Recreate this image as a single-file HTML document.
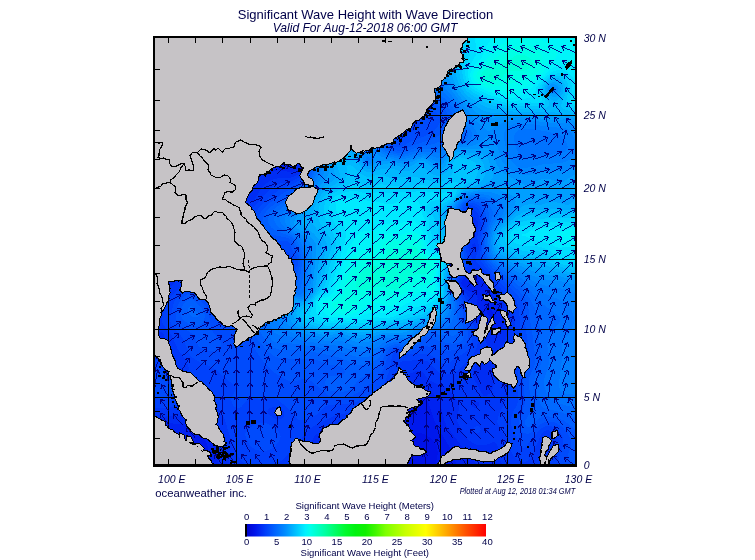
<!DOCTYPE html>
<html><head><meta charset="utf-8"><title>Significant Wave Height with Wave Direction</title>
<style>
html,body{margin:0;padding:0;background:#fff}
body{width:755px;height:560px;overflow:hidden}
svg{display:block}
text{font-family:"Liberation Sans",Arial,sans-serif;fill:#000048}
.it{font-style:italic}
</style></head><body>
<svg width="755" height="560" viewBox="0 0 755 560">
<defs><clipPath id="mc"><rect x="154" y="37" width="422.5" height="429"/></clipPath>
<linearGradient id="cb" x1="0" x2="1" y1="0" y2="0">
<stop offset="0.0000" stop-color="#0000c8"/>
<stop offset="0.0417" stop-color="#0014eb"/>
<stop offset="0.0833" stop-color="#003cfa"/>
<stop offset="0.1250" stop-color="#0064ff"/>
<stop offset="0.1667" stop-color="#008cff"/>
<stop offset="0.2083" stop-color="#00beff"/>
<stop offset="0.2500" stop-color="#00f0ff"/>
<stop offset="0.2708" stop-color="#00ffeb"/>
<stop offset="0.2917" stop-color="#00ffd2"/>
<stop offset="0.3333" stop-color="#00ffa0"/>
<stop offset="0.4167" stop-color="#00fa2d"/>
<stop offset="0.4583" stop-color="#00f20f"/>
<stop offset="0.5000" stop-color="#0ff000"/>
<stop offset="0.5417" stop-color="#41f600"/>
<stop offset="0.5833" stop-color="#7dff00"/>
<stop offset="0.6667" stop-color="#c8ff00"/>
<stop offset="0.7500" stop-color="#ffff00"/>
<stop offset="0.8333" stop-color="#ffaa00"/>
<stop offset="0.9167" stop-color="#ff5000"/>
<stop offset="1.0000" stop-color="#ff0000"/>
</linearGradient></defs>
<rect width="755" height="560" fill="#fff"/>
<g clip-path="url(#mc)">
<rect x="150" y="33" width="430" height="437" fill="#0012e8"/>
<g shape-rendering="crispEdges">
<path d="M154.0,34.0 577.0,34.0 577.0,469.0 434.8,469.0 437.6,454.0 437.4,448.0 436.6,445.0 433.0,440.1 427.0,435.6 421.0,432.9 418.0,432.9 415.0,434.0 412.0,436.4 409.0,439.8 405.5,445.0 400.1,457.0 397.0,469.0 158.8,469.0 157.0,467.1 153.7,469.0 151.0,469.0 151.0,34.0Z" fill="#0019ed" fill-rule="evenodd"/>
<path d="M154.0,34.0 577.0,34.0 577.0,469.0 457.4,469.0 455.8,463.0 451.4,451.0 446.7,442.0 437.1,427.0 434.4,421.0 428.4,403.0 426.7,400.0 424.0,397.4 421.0,396.1 418.0,396.2 415.9,397.0 412.1,400.0 402.0,415.0 394.0,425.7 382.0,439.6 363.2,460.0 358.3,466.0 356.7,469.0 205.8,469.0 208.0,452.6 207.4,445.0 205.0,440.4 202.0,437.6 199.0,436.1 193.0,435.1 182.1,436.0 175.0,437.4 163.0,440.9 151.0,442.9 151.0,34.0ZM472.6,280.0 467.4,283.0 472.0,285.2 475.0,285.8 478.0,285.4 479.8,283.0 478.0,280.3 475.0,279.8ZM486.1,310.0 487.0,313.2 493.0,320.3 494.9,319.0 493.0,312.6 490.0,307.9 487.0,307.0Z" fill="#0023f1" fill-rule="evenodd"/>
<path d="M154.0,34.0 577.0,34.0 577.0,469.0 479.2,469.0 475.7,463.0 466.0,451.7 447.1,427.0 444.4,421.0 439.9,403.0 436.6,397.0 433.0,393.3 427.0,389.3 421.0,386.8 418.0,386.3 415.0,386.5 412.0,387.5 407.1,391.0 388.0,413.7 382.0,419.7 373.0,427.2 361.0,435.3 343.7,445.0 334.6,451.0 331.0,454.6 328.0,458.6 323.6,466.0 322.4,469.0 219.4,469.0 216.8,451.0 214.5,442.0 211.4,436.0 209.2,433.0 205.0,429.1 202.0,427.3 199.0,426.0 193.0,424.6 169.0,423.3 151.0,427.8 151.0,34.0ZM262.3,160.0 257.9,163.0 255.2,166.0 253.9,169.0 254.4,172.0 256.0,172.9 259.0,173.4 265.0,173.4 271.0,172.4 277.0,170.5 280.0,170.4 289.0,171.9 292.0,171.9 295.0,170.9 297.3,169.0 296.4,166.0 293.1,163.0 289.0,160.6 283.0,158.5 274.0,157.2 268.0,158.0ZM471.3,274.0 466.0,276.8 462.5,280.0 461.3,283.0 462.2,286.0 466.0,289.5 476.4,295.0 477.6,298.0 476.0,310.0 476.4,313.0 478.0,316.1 487.0,328.4 490.0,331.2 493.0,332.8 496.0,333.1 499.0,331.9 502.3,328.0 504.1,322.0 503.8,316.0 500.8,307.0 499.0,303.8 490.4,292.0 486.8,283.0 484.0,278.3 481.0,275.5 478.0,274.0 475.0,273.3Z" fill="#002df4" fill-rule="evenodd"/>
<path d="M154.0,34.0 577.0,34.0 577.0,469.0 503.6,469.0 499.1,457.0 497.3,445.0 496.0,442.8 493.0,442.2 487.0,444.6 481.0,445.5 475.0,444.3 469.0,440.5 462.9,433.0 456.8,421.0 456.6,418.0 459.0,409.0 459.1,406.0 458.1,403.0 454.7,397.0 449.9,391.0 445.8,388.0 430.0,380.7 427.8,379.0 424.0,373.7 421.0,371.2 418.0,370.9 415.0,371.4 409.0,374.1 406.0,376.9 394.0,393.5 388.0,400.4 379.0,408.7 367.0,417.1 361.0,420.2 352.0,423.8 331.0,430.5 319.0,433.3 316.0,434.6 314.5,436.0 312.8,439.0 309.8,448.0 307.0,454.4 298.2,469.0 231.5,469.0 222.9,442.0 217.7,430.0 214.0,424.2 211.2,421.0 205.0,416.3 199.0,414.1 193.0,413.5 175.0,416.2 151.0,417.0 151.0,345.1 157.0,345.5 160.0,345.1 163.0,343.3 164.6,340.0 164.7,337.0 163.0,333.4 151.0,325.1 151.0,303.1 157.2,295.0 160.3,292.0 166.0,288.3 172.0,285.8 174.5,283.0 174.7,280.0 172.0,274.3 169.0,271.0 160.0,264.1 151.0,258.6 151.0,34.0ZM263.2,142.0 256.0,143.1 248.3,145.0 241.0,147.5 235.0,150.4 229.4,154.0 226.0,157.0 223.0,160.5 219.9,166.0 218.9,169.0 218.3,175.0 219.3,181.0 221.9,187.0 226.2,193.0 229.1,196.0 232.8,199.0 238.0,201.7 244.0,203.2 250.0,202.8 253.0,201.2 255.0,199.0 260.3,190.0 262.6,187.0 265.7,184.0 269.9,181.0 274.0,179.1 277.0,178.4 286.0,178.3 292.0,177.4 298.0,174.6 301.0,171.7 301.9,169.0 301.7,166.0 300.5,163.0 295.0,155.2 289.0,149.7 283.0,145.8 277.0,143.3 271.0,142.1ZM471.3,220.0 470.7,223.0 470.8,226.0 471.6,229.0 472.0,229.8 475.0,230.7 478.0,226.5 478.0,222.3 475.0,217.3 472.0,218.3ZM472.0,244.0 472.0,247.9 475.0,249.3 475.9,247.0 475.0,243.2ZM468.4,271.0 463.0,275.9 460.0,279.7 459.1,283.0 460.0,286.7 469.5,298.0 470.7,301.0 471.1,310.0 472.0,314.7 482.8,334.0 487.6,346.0 488.3,349.0 488.2,352.0 486.8,355.0 478.0,363.2 475.0,366.8 473.4,370.0 472.8,373.0 472.9,376.0 473.8,379.0 479.3,388.0 481.0,392.7 484.0,396.3 487.0,395.5 490.0,393.4 492.9,388.0 495.9,373.0 496.6,358.0 497.2,355.0 505.0,341.2 508.0,333.5 509.6,325.0 509.5,316.0 508.4,310.0 506.1,304.0 487.0,276.7 481.0,271.1 478.0,269.2 475.0,268.2 472.0,268.6ZM473.2,403.0 471.2,406.0 472.0,406.8 475.0,407.8 478.4,406.0 479.1,403.0 478.0,401.7 475.0,402.1Z" fill="#0037f8" fill-rule="evenodd"/>
<path d="M154.0,34.0 577.0,34.0 577.0,469.0 546.8,469.0 551.2,457.0 556.9,445.0 557.6,442.0 557.4,439.0 556.3,436.0 553.8,433.0 550.0,430.8 547.0,430.2 544.0,431.3 541.0,434.7 532.0,456.2 529.0,460.0 526.0,461.7 523.0,461.9 520.0,461.2 517.0,459.4 514.0,456.5 512.3,454.0 506.5,439.0 497.7,424.0 497.3,421.0 498.7,415.0 506.0,400.0 507.7,394.0 508.6,376.0 512.7,355.0 514.0,344.0 515.0,328.0 514.3,313.0 512.2,304.0 508.6,298.0 491.1,277.0 476.7,262.0 475.4,259.0 475.9,256.0 478.5,250.0 478.6,244.0 477.3,238.0 477.6,235.0 480.6,226.0 480.7,223.0 478.0,213.3 475.0,210.3 472.0,209.3 468.9,211.0 467.6,217.0 467.2,223.0 468.7,235.0 468.3,247.0 469.0,250.9 471.3,256.0 471.8,259.0 471.0,262.0 460.0,276.6 458.3,280.0 457.7,283.0 458.1,286.0 459.4,289.0 465.2,298.0 466.4,301.0 469.0,315.8 473.5,325.0 476.8,334.0 477.8,343.0 476.3,349.0 472.6,355.0 460.0,368.5 457.0,371.0 451.0,373.6 445.0,374.2 442.0,373.7 439.0,372.4 436.1,370.0 431.0,364.0 427.0,361.0 421.0,360.0 403.0,361.0 400.0,362.6 394.0,379.0 389.0,388.0 385.0,392.5 376.0,400.1 367.0,406.0 361.0,409.1 352.0,412.1 334.0,415.9 313.0,426.4 308.5,430.0 291.6,451.0 283.0,459.7 274.0,465.1 268.0,467.5 262.0,468.7 256.0,468.3 253.0,467.6 244.0,463.6 241.0,461.0 238.7,457.0 229.0,434.1 226.0,423.1 224.0,418.0 214.0,400.8 211.0,397.1 208.0,394.6 205.0,393.1 202.0,392.5 199.0,392.8 193.0,395.5 182.0,403.0 176.0,406.0 172.0,407.3 163.0,408.3 151.0,407.2 151.0,358.7 157.0,358.8 163.0,360.2 166.0,361.8 175.0,370.3 181.0,373.5 184.0,373.8 186.5,373.0 188.5,370.0 188.6,367.0 186.4,361.0 177.7,349.0 170.9,334.0 163.4,325.0 162.2,322.0 162.1,319.0 162.6,316.0 167.9,301.0 172.2,295.0 178.8,289.0 183.6,283.0 186.9,277.0 188.4,271.0 188.3,268.0 186.2,262.0 171.2,241.0 167.8,235.0 164.1,226.0 161.9,217.0 160.6,205.0 161.0,199.0 163.0,194.2 166.0,190.8 169.0,189.2 172.0,188.6 178.0,189.1 184.0,190.9 193.0,194.5 205.0,200.6 220.0,209.4 226.0,212.1 232.0,213.5 235.0,213.6 241.0,212.8 250.0,209.3 256.0,205.1 268.0,191.0 274.0,185.4 277.0,184.0 289.0,182.2 292.0,181.3 298.0,178.1 301.0,175.7 303.6,172.0 304.5,169.0 304.6,166.0 303.0,160.0 298.0,149.9 295.0,145.5 289.0,138.7 283.0,134.0 277.0,130.9 271.0,129.1 262.0,128.1 250.0,129.4 235.0,130.2 220.0,133.5 205.9,139.0 194.2,145.0 166.0,163.7 160.0,165.6 151.0,165.1 151.0,34.0ZM268.3,409.0 267.3,412.0 269.5,415.0 273.7,418.0 277.0,419.3 280.0,419.5 283.0,418.0 284.4,415.0 284.0,412.0 280.0,407.7 277.0,406.6 274.0,406.6ZM475.0,426.6 478.0,426.2 479.6,427.0 480.8,430.0 478.0,433.3 475.0,433.3 473.0,430.0Z" fill="#0041fb" fill-rule="evenodd"/>
<path d="M154.0,34.0 577.0,34.0 577.0,469.0 559.8,469.0 559.1,463.0 559.2,457.0 563.1,445.0 563.2,439.0 560.5,433.0 556.0,428.6 553.0,426.9 550.0,426.1 547.0,425.9 543.5,427.0 541.0,428.6 537.0,433.0 529.5,442.0 526.0,447.3 523.0,448.2 520.0,444.8 517.0,439.6 512.7,430.0 511.0,424.0 511.0,418.0 513.1,412.0 517.0,404.9 518.2,400.0 518.3,394.0 517.0,385.0 517.0,379.0 518.0,373.0 521.5,361.0 522.2,355.0 519.5,316.0 518.4,307.0 516.5,301.0 514.6,298.0 486.3,268.0 481.7,262.0 480.6,259.0 480.1,256.0 480.8,247.0 480.0,238.0 482.5,226.0 482.6,220.0 481.0,214.0 478.0,208.4 475.0,206.2 472.0,205.1 469.0,205.2 466.0,207.6 465.0,211.0 464.5,223.0 466.9,259.0 465.1,265.0 457.0,279.4 456.4,283.0 457.0,287.1 463.2,301.0 466.1,316.0 470.8,328.0 472.2,334.0 472.3,340.0 471.7,343.0 469.0,348.2 466.0,351.5 463.0,353.8 455.5,358.0 448.0,363.9 445.0,364.5 442.0,363.1 436.0,358.1 433.0,356.2 427.0,354.0 424.0,353.6 409.0,354.6 403.0,353.4 399.4,352.0 397.0,351.6 394.9,352.0 394.0,352.4 392.3,355.0 389.6,370.0 386.2,379.0 382.2,385.0 376.0,390.1 364.0,398.2 355.0,402.3 349.0,403.6 337.0,404.3 328.0,405.5 325.0,406.3 320.0,412.0 316.1,415.0 304.0,419.7 301.0,420.4 298.0,419.7 288.6,409.0 280.0,401.3 277.0,399.3 274.0,398.1 268.0,397.9 262.0,399.0 253.0,398.0 250.0,398.3 247.0,400.4 241.0,407.2 238.0,408.2 235.0,407.3 233.7,406.0 231.8,403.0 231.4,400.0 232.0,397.0 235.3,391.0 235.7,388.0 233.9,385.0 226.0,378.8 216.5,370.0 211.2,367.0 199.0,361.8 193.0,358.0 190.0,355.1 188.3,352.0 183.8,340.0 181.8,337.0 171.7,325.0 170.3,322.0 169.9,319.0 173.4,304.0 174.7,301.0 178.0,296.4 184.0,290.8 187.0,288.7 190.0,287.1 193.0,286.4 196.0,286.3 199.0,287.2 201.3,289.0 203.4,292.0 205.6,298.0 208.0,300.7 213.3,304.0 216.1,307.0 217.0,310.0 217.0,316.9 220.0,318.8 223.1,316.0 229.5,295.0 235.0,282.4 241.0,273.8 247.0,268.6 250.0,267.2 253.0,266.4 256.0,266.4 274.0,269.6 283.0,269.7 289.0,268.1 293.0,265.0 294.6,262.0 293.1,259.0 286.0,249.9 283.0,248.1 280.0,248.1 272.8,250.0 256.0,256.3 253.0,256.9 250.0,256.7 244.0,254.4 238.1,250.0 233.2,244.0 232.5,241.0 233.1,238.0 235.0,235.0 241.7,226.0 268.0,198.6 278.8,190.0 295.0,183.2 301.9,178.0 304.4,175.0 306.8,169.0 307.1,166.0 306.3,160.0 304.0,151.8 301.0,143.9 297.2,136.0 292.0,128.2 289.0,125.0 283.0,120.4 277.0,117.1 271.0,114.7 256.0,111.2 238.0,109.7 223.0,110.5 202.0,113.8 190.0,114.0 181.0,113.0 172.0,111.3 151.0,105.5 151.0,34.0ZM402.5,121.0 400.0,122.6 397.0,125.6 394.7,130.0 393.5,136.0 394.3,139.0 397.0,140.0 401.0,139.0 419.2,127.0 420.5,124.0 418.1,121.0 412.0,119.4 406.0,119.8ZM193.0,222.5 196.0,220.7 199.0,220.1 205.0,221.1 208.7,223.0 212.4,226.0 217.3,232.0 219.1,235.0 220.0,238.0 219.6,241.0 216.2,244.0 211.0,245.6 208.0,245.7 202.0,244.6 196.0,241.5 192.6,238.0 190.8,235.0 189.9,232.0 189.7,229.0 190.5,226.0ZM154.0,368.7 157.0,368.2 160.0,368.5 163.6,370.0 167.2,373.0 169.8,376.0 173.6,382.0 174.6,385.0 174.8,388.0 174.3,391.0 172.7,394.0 169.0,397.2 166.0,398.5 160.0,399.1 151.0,396.2 151.0,369.4ZM256.0,423.9 259.0,422.9 265.0,422.8 271.0,425.2 277.7,430.0 279.8,433.0 280.6,436.0 280.2,439.0 278.8,442.0 274.0,447.2 268.0,450.4 262.0,451.3 256.0,449.9 253.0,448.1 249.8,445.0 246.3,439.0 245.4,436.0 245.3,433.0 247.1,430.0 250.8,427.0Z" fill="#004bfc" fill-rule="evenodd"/>
<path d="M154.0,34.0 577.0,34.0 577.0,469.0 574.3,469.0 568.0,457.2 568.1,454.0 570.5,448.0 571.0,445.0 570.6,439.0 567.6,433.0 562.0,426.7 556.0,423.0 553.0,422.0 547.0,421.6 544.0,422.3 541.0,423.8 532.0,432.1 529.0,433.5 526.0,433.7 523.0,432.4 520.9,430.0 519.3,427.0 518.6,424.0 519.0,418.0 523.1,409.0 524.7,403.0 524.7,397.0 523.3,385.0 523.5,379.0 525.1,373.0 529.0,364.3 529.5,361.0 529.4,352.0 524.7,322.0 523.2,307.0 521.4,301.0 517.6,295.0 489.6,268.0 484.9,262.0 483.5,259.0 482.4,253.0 482.0,238.0 484.6,223.0 484.2,217.0 481.0,208.0 478.5,205.0 475.0,203.5 472.0,202.9 469.0,203.1 465.0,205.0 463.1,208.0 462.3,214.0 462.2,223.0 464.1,253.0 464.0,259.0 462.4,265.0 456.5,277.0 455.2,283.0 456.3,289.0 460.7,301.0 463.3,316.0 466.3,325.0 467.7,331.0 468.1,337.0 467.5,340.0 466.0,343.2 463.0,346.4 457.0,349.3 448.0,351.1 442.0,350.6 427.0,346.3 424.0,346.7 418.0,349.1 412.0,350.6 406.0,350.4 397.0,348.6 394.0,349.0 390.1,352.0 388.4,355.0 383.2,370.0 381.8,373.0 379.0,376.8 373.0,382.0 358.0,392.7 352.0,395.8 349.0,396.6 334.0,397.0 331.0,396.6 328.0,395.4 313.0,382.5 310.0,380.5 307.0,379.4 301.0,379.4 292.0,382.3 289.0,381.3 274.0,372.5 268.0,367.0 262.0,359.9 250.0,342.3 243.5,334.0 241.9,331.0 240.4,325.0 240.5,316.0 242.4,307.0 244.6,301.0 248.1,295.0 253.4,289.0 259.0,284.9 265.0,282.1 285.8,277.0 289.0,275.7 292.0,273.6 295.0,270.2 297.8,265.0 298.3,262.0 297.5,259.0 292.4,250.0 289.0,242.2 286.0,240.6 271.0,240.9 262.0,239.7 258.5,238.0 255.3,235.0 253.8,232.0 253.3,229.0 254.4,223.0 257.6,217.0 261.7,211.0 267.1,205.0 283.0,193.3 298.0,184.6 304.0,179.1 307.0,174.8 309.0,169.0 309.3,160.0 307.0,146.7 302.5,127.0 301.0,122.9 298.3,118.0 292.0,110.9 283.0,104.4 268.0,96.5 256.0,91.7 241.0,87.4 229.0,85.2 208.0,83.1 199.0,81.2 184.0,74.8 154.0,58.6 151.0,57.4 151.0,34.0ZM400.9,106.0 394.0,108.7 391.0,111.1 388.0,114.9 386.6,118.0 385.3,124.0 385.2,133.0 386.9,142.0 389.4,145.0 397.0,147.4 400.0,147.4 412.0,141.1 424.8,136.0 430.6,133.0 434.5,130.0 437.3,127.0 439.2,124.0 440.1,121.0 440.2,118.0 439.2,115.0 435.2,112.0 427.0,108.6 418.0,106.1 409.0,105.2ZM187.0,294.6 190.0,293.6 193.0,293.8 196.0,295.3 206.2,307.0 208.1,310.0 209.1,313.0 209.8,322.0 211.0,328.0 214.0,333.7 219.6,340.0 220.9,343.0 220.9,346.0 220.0,348.3 217.0,350.9 214.0,351.6 211.0,351.4 203.2,349.0 199.0,346.7 196.5,343.0 194.7,337.0 192.3,334.0 181.0,326.5 177.2,322.0 175.9,319.0 175.5,316.0 177.2,307.0 178.4,304.0 181.0,299.8 184.0,296.7Z" fill="#0055fd" fill-rule="evenodd"/>
<path d="M196.0,34.0 577.0,34.0 577.0,430.8 564.6,421.0 559.0,418.3 553.0,416.7 547.0,416.4 541.0,417.5 538.0,419.1 532.0,426.5 529.0,427.6 526.0,425.9 525.1,424.0 525.2,421.0 530.0,412.0 531.3,406.0 530.8,397.0 528.7,385.0 528.9,379.0 529.8,376.0 534.1,367.0 535.4,361.0 535.2,355.0 533.3,343.0 532.2,331.0 529.7,319.0 528.8,310.0 526.0,301.0 523.0,295.6 520.1,292.0 513.9,286.0 493.0,268.2 487.6,262.0 485.9,259.0 484.4,253.0 483.7,238.0 486.5,223.0 486.6,217.0 483.1,205.0 481.0,203.3 478.0,202.0 472.0,201.1 469.0,201.3 466.0,202.3 462.6,205.0 460.6,211.0 460.1,223.0 461.9,253.0 461.7,259.0 460.2,265.0 455.2,277.0 454.0,283.0 455.0,289.0 458.5,301.0 460.3,316.0 462.9,325.0 463.7,331.0 463.7,337.0 462.4,340.0 460.0,342.2 457.0,343.3 454.0,343.7 448.0,343.3 439.0,341.2 430.4,337.0 427.0,336.3 424.0,337.8 419.9,343.0 418.0,344.6 412.0,347.2 406.0,347.5 397.0,346.3 394.0,346.6 391.0,347.8 386.7,352.0 382.0,360.5 376.0,368.6 373.0,371.1 359.4,379.0 351.9,388.0 349.0,390.2 346.0,391.4 343.0,391.6 331.0,391.0 327.0,388.0 325.5,385.0 325.3,382.0 326.4,379.0 328.0,377.0 331.0,375.6 340.0,376.2 343.0,374.9 344.7,373.0 344.4,370.0 341.3,367.0 337.0,365.7 331.0,365.2 328.0,364.4 320.0,361.0 316.0,359.9 280.0,358.1 274.0,356.1 268.0,351.6 257.9,340.0 254.4,334.0 251.7,328.0 250.4,319.0 251.8,310.0 256.1,301.0 261.1,295.0 264.7,292.0 274.0,286.8 292.0,280.7 295.0,278.0 298.0,272.0 300.0,265.0 300.2,262.0 298.8,256.0 292.0,240.8 288.4,238.0 273.6,235.0 265.4,232.0 262.1,229.0 261.3,226.0 261.4,223.0 264.6,214.0 269.1,208.0 301.0,185.5 305.3,181.0 309.2,175.0 311.3,169.0 312.0,163.0 311.0,142.0 312.6,118.0 311.7,112.0 308.6,106.0 304.0,101.2 268.0,75.0 250.0,64.1 205.0,40.6 199.0,37.0 195.6,34.0ZM387.5,97.0 382.1,100.0 379.0,103.1 377.2,106.0 376.3,109.0 375.8,115.0 377.2,124.0 381.9,139.0 384.9,145.0 389.0,148.0 397.0,150.6 400.0,151.0 403.0,150.1 412.0,145.8 430.0,139.9 436.0,137.3 443.0,133.0 446.6,130.0 448.5,127.0 449.0,121.0 447.9,115.0 446.6,112.0 445.0,109.8 442.0,107.4 436.0,104.2 421.0,98.0 409.0,95.2 397.0,94.9ZM187.0,300.3 190.0,299.2 193.0,299.8 194.7,301.0 202.0,308.8 204.3,313.0 204.8,316.0 204.4,319.0 203.2,322.0 202.0,323.9 199.0,325.8 196.0,326.1 190.0,324.5 184.0,320.8 181.0,316.8 180.4,313.0 182.0,307.0 184.0,303.2Z" fill="#005ffe" fill-rule="evenodd"/>
<path d="M259.0,34.0 577.0,34.0 577.0,419.0 562.0,412.5 556.0,410.8 545.9,409.0 544.0,408.1 541.7,406.0 540.2,403.0 535.0,386.7 534.1,382.0 535.0,377.5 540.2,367.0 541.3,361.0 541.0,355.0 538.8,343.0 539.9,331.0 539.7,325.0 536.8,313.0 534.3,307.0 529.5,298.0 525.3,292.0 515.9,283.0 496.0,267.8 490.2,262.0 488.2,259.0 486.1,253.0 485.2,241.0 485.6,235.0 489.0,220.0 489.1,214.0 486.5,205.0 484.3,202.0 481.0,200.6 472.0,199.5 466.0,200.8 463.0,202.6 460.9,205.0 458.8,211.0 458.1,223.0 459.9,256.0 459.1,262.0 453.9,277.0 452.9,283.0 456.8,304.0 457.0,316.0 458.1,325.0 457.8,331.0 457.0,334.2 454.0,335.5 451.0,335.5 439.0,334.7 430.0,333.0 427.0,332.9 424.0,333.7 415.0,342.8 412.0,344.3 406.0,345.0 397.0,344.2 394.0,344.4 389.3,346.0 385.6,349.0 379.0,357.3 376.0,360.0 370.0,363.4 364.0,365.0 361.0,365.2 355.0,364.1 340.0,357.7 319.0,352.8 298.0,350.4 283.0,350.2 277.0,349.2 271.0,346.3 267.4,343.0 261.2,334.0 258.1,325.0 257.8,319.0 260.0,310.0 263.3,304.0 265.5,301.0 271.7,295.0 280.0,290.0 286.0,287.9 295.0,285.7 297.7,283.0 299.0,280.0 301.0,271.9 302.0,262.0 301.0,255.4 294.7,241.0 292.4,238.0 289.0,235.8 277.0,231.0 273.3,229.0 271.0,227.1 268.4,223.0 268.3,217.0 269.2,214.0 271.2,211.0 298.0,191.4 304.0,186.0 308.1,181.0 311.5,175.0 313.6,169.0 314.6,163.0 315.3,145.0 316.2,139.0 318.0,133.0 322.0,125.6 330.0,118.0 340.0,104.9 343.0,102.4 346.0,101.0 349.0,101.5 352.0,103.4 358.0,109.0 364.0,116.3 382.1,145.0 384.8,148.0 388.0,149.9 397.0,152.8 400.0,153.2 403.0,152.7 415.0,148.2 433.0,144.1 438.7,142.0 448.0,137.0 454.0,134.9 460.0,134.5 463.1,133.0 457.8,127.0 451.3,112.0 448.0,107.0 445.0,104.0 439.0,99.7 430.0,94.5 415.0,88.0 406.0,85.5 397.0,84.0 388.0,83.4 379.0,83.7 367.0,85.8 360.3,88.0 349.0,93.1 346.0,93.6 343.0,93.0 332.1,88.0 322.0,84.2 302.2,79.0 298.5,76.0 291.7,67.0 283.0,57.3 274.0,48.8 259.8,37.0 257.2,34.0ZM190.0,306.1 193.0,306.8 196.1,310.0 198.3,313.0 198.6,316.0 196.0,317.4 193.0,316.9 190.0,315.1 188.5,313.0 187.9,310.0 188.9,307.0Z" fill="#0069ff" fill-rule="evenodd"/>
<path d="M304.0,34.0 577.0,34.0 577.0,408.7 557.6,403.0 551.7,400.0 548.8,397.0 547.0,394.0 543.9,385.0 543.7,382.0 544.1,379.0 548.2,367.0 549.0,361.0 548.8,355.0 547.4,346.0 548.1,340.0 550.0,334.7 552.1,331.0 559.9,322.0 560.4,319.0 558.9,316.0 544.0,305.1 538.0,300.0 531.2,292.0 521.6,283.0 499.0,267.3 493.0,262.2 490.4,259.0 488.8,256.0 487.3,250.0 486.8,238.0 489.3,226.0 493.3,214.0 492.7,211.0 488.0,202.0 484.0,199.1 481.0,198.4 472.0,197.9 466.0,199.3 463.0,201.0 460.0,204.0 458.0,208.0 457.1,211.0 456.2,217.0 456.2,223.0 458.1,256.0 457.3,262.0 452.6,277.0 451.8,283.0 454.6,301.0 454.5,310.0 453.6,316.0 451.4,322.0 449.6,325.0 446.2,328.0 442.0,329.6 439.0,330.2 427.0,330.5 424.0,331.3 420.0,334.0 414.4,340.0 412.0,341.5 409.0,342.4 397.0,342.0 389.9,343.0 385.0,345.6 376.0,353.7 370.0,356.4 364.0,357.4 355.0,356.4 340.0,351.8 319.0,347.5 289.0,343.0 277.0,342.9 274.0,341.7 271.8,340.0 269.4,337.0 266.0,331.0 264.2,325.0 264.3,319.0 267.3,310.0 273.5,301.0 280.2,295.0 283.0,293.3 289.0,291.1 298.0,291.1 300.4,289.0 302.4,280.0 303.8,268.0 303.6,259.0 302.8,253.0 297.2,241.0 295.1,238.0 292.0,235.4 281.2,229.0 277.5,226.0 275.2,223.0 274.0,220.0 273.8,217.0 274.8,214.0 277.8,211.0 301.0,192.5 307.0,186.3 310.8,181.0 315.1,172.0 316.8,166.0 318.2,151.0 320.1,142.0 322.7,136.0 327.5,130.0 334.0,125.4 340.0,122.2 343.0,121.3 349.0,120.8 355.0,122.3 361.0,126.0 364.0,128.6 381.9,148.0 385.0,150.5 394.0,153.9 400.0,155.2 406.0,154.2 412.0,151.9 421.0,149.6 436.0,148.5 439.0,147.4 445.0,143.5 451.0,140.6 454.0,139.8 464.4,139.0 466.0,138.4 468.3,136.0 468.4,133.0 466.6,130.0 461.7,124.0 455.5,112.0 451.0,105.1 448.0,101.5 442.0,96.3 427.0,85.8 418.0,81.0 406.0,76.2 355.0,61.7 334.0,54.4 322.6,49.0 313.0,43.1 305.2,37.0 302.7,34.0Z" fill="#0073ff" fill-rule="evenodd"/>
<path d="M352.0,34.0 577.0,34.0 577.0,395.0 565.0,393.6 562.0,392.5 560.6,391.0 559.5,388.0 559.1,385.0 559.5,379.0 561.8,361.0 561.6,343.0 562.9,340.0 568.0,335.1 571.0,331.0 573.4,325.0 573.9,322.0 573.5,316.0 571.5,310.0 568.0,305.1 565.0,302.6 559.0,299.3 544.0,293.4 538.0,290.2 519.7,277.0 499.0,264.5 492.7,259.0 490.0,254.4 488.9,250.0 488.2,238.0 491.1,226.0 493.0,221.8 499.1,214.0 499.3,211.0 497.7,208.0 489.1,199.0 484.0,196.7 472.0,196.4 466.0,197.9 463.0,199.5 460.0,202.1 457.9,205.0 455.4,211.0 454.4,217.0 454.3,223.0 456.3,256.0 455.6,262.0 451.4,277.0 450.7,283.0 452.7,298.0 452.5,307.0 451.0,313.8 448.4,319.0 445.0,323.1 442.2,325.0 436.0,327.1 424.0,329.3 420.5,331.0 412.0,338.7 409.0,340.0 394.0,339.9 388.0,340.8 383.0,343.0 379.0,346.3 373.0,349.7 364.0,351.5 355.0,350.6 337.0,345.7 304.0,341.1 298.0,339.5 289.0,336.1 280.0,335.4 276.3,334.0 274.0,332.1 271.2,328.0 270.2,325.0 270.0,322.0 271.0,317.8 274.3,310.0 280.0,301.0 283.0,297.9 289.0,294.4 292.0,293.8 298.0,294.8 301.0,294.8 303.6,292.0 304.5,289.0 305.9,274.0 305.8,256.0 304.8,250.0 300.0,241.0 297.8,238.0 294.5,235.0 286.2,229.0 283.1,226.0 280.9,223.0 279.9,220.0 280.1,217.0 281.5,214.0 284.3,211.0 304.0,193.4 309.6,187.0 313.0,181.8 318.8,169.0 321.5,151.0 323.2,145.0 325.0,141.0 328.9,136.0 334.0,132.0 340.0,129.4 346.0,128.5 352.0,129.3 358.0,131.9 361.0,133.9 376.0,145.1 382.0,150.8 385.0,152.8 391.0,154.9 400.0,157.0 406.0,156.4 415.0,153.4 421.0,152.1 427.0,151.8 436.0,153.3 439.0,153.0 449.3,145.0 454.0,143.1 466.0,141.6 470.5,139.0 472.2,136.0 472.1,133.0 470.7,130.0 466.1,124.0 461.4,115.0 455.7,106.0 448.0,96.5 436.0,85.4 427.0,78.3 418.0,72.4 393.7,61.0 357.8,40.0 353.2,37.0 350.0,34.0ZM518.7,130.0 517.0,131.0 515.3,133.0 514.3,136.0 514.4,142.0 517.2,151.0 520.0,155.3 523.0,157.6 529.0,158.1 556.5,154.0 565.0,151.4 567.7,148.0 567.4,145.0 564.7,139.0 562.1,136.0 559.0,134.4 547.0,131.4 532.0,129.1 526.0,128.9Z" fill="#007dff" fill-rule="evenodd"/>
<path d="M382.0,34.0 577.0,34.0 577.0,143.1 571.0,132.6 568.0,129.4 565.0,128.1 547.0,126.7 529.0,123.6 517.0,123.6 513.8,124.0 511.0,125.3 508.2,127.0 505.6,130.0 504.2,133.0 503.8,136.0 505.1,145.0 508.9,157.0 514.0,163.9 517.0,166.4 520.0,167.7 526.0,168.0 544.0,164.1 559.0,163.1 565.0,162.1 571.0,158.8 575.6,154.0 577.0,151.7 577.0,295.1 572.6,292.0 568.0,290.1 556.0,287.3 544.0,285.3 538.0,283.3 532.0,280.4 520.0,273.1 505.0,265.4 496.0,259.6 493.0,256.4 491.3,253.0 489.6,244.0 489.7,238.0 490.9,232.0 493.0,225.8 496.0,221.6 501.1,217.0 503.1,214.0 503.9,211.0 504.0,208.0 503.1,205.0 500.4,202.0 490.6,196.0 487.0,194.7 481.0,194.3 472.0,194.9 466.0,196.4 460.0,200.6 456.5,205.0 454.9,208.0 452.9,214.0 452.4,220.0 452.6,226.0 454.4,247.0 454.7,256.0 453.4,265.0 449.7,280.0 449.7,286.0 451.1,298.0 450.9,304.0 449.6,310.0 448.0,313.9 445.0,318.3 442.0,321.2 436.0,324.2 427.0,326.4 421.0,328.5 417.1,331.0 412.0,335.6 409.0,337.4 406.0,337.9 391.0,337.6 385.0,338.5 380.5,340.0 373.0,344.5 370.0,345.6 364.0,346.6 355.0,345.8 340.0,340.5 325.0,340.7 304.0,337.1 298.0,335.2 286.0,329.5 283.1,328.0 279.7,325.0 278.4,322.0 278.7,316.0 283.1,304.0 284.9,301.0 289.0,297.4 292.0,296.3 301.0,297.1 304.8,295.0 306.6,292.0 307.3,289.0 308.5,274.0 308.2,262.0 308.7,253.0 307.4,247.0 305.7,244.0 301.1,238.0 289.8,229.0 287.2,226.0 285.6,223.0 284.9,220.0 285.5,217.0 287.3,214.0 290.0,211.0 301.0,200.7 307.0,194.3 314.6,184.0 320.7,172.0 321.7,169.0 324.1,154.0 325.8,148.0 328.0,143.6 331.0,140.0 334.0,137.6 340.0,135.0 343.0,134.4 349.0,134.7 355.0,136.8 367.0,144.4 373.0,146.6 376.0,148.3 382.0,153.7 385.0,155.2 397.0,158.3 403.0,159.1 409.0,157.9 418.0,154.8 424.0,154.1 430.0,155.2 436.0,157.5 439.0,157.6 442.0,155.7 446.1,151.0 451.0,147.3 457.0,145.2 469.0,143.6 472.5,142.0 475.0,139.6 477.0,136.0 477.0,133.0 475.7,130.0 470.6,124.0 464.1,112.0 451.0,94.8 439.0,81.3 430.0,72.3 424.0,67.2 418.0,62.7 403.0,52.9 394.2,46.0 383.6,37.0 381.1,34.0ZM366.1,157.0 365.9,160.0 367.0,161.3 370.0,160.3 370.0,159.2 368.5,157.0 367.0,155.9Z" fill="#0087ff" fill-rule="evenodd"/>
<path d="M403.0,34.0 577.0,34.0 577.0,129.3 571.4,124.0 568.0,122.7 553.0,123.4 529.0,120.1 517.0,120.0 508.4,121.0 502.0,122.9 494.4,127.0 490.0,130.9 487.0,130.6 475.0,120.2 469.0,112.0 458.8,100.0 436.0,69.4 427.0,59.4 404.0,37.0 402.1,34.0ZM549.9,88.0 551.1,91.0 553.0,92.0 555.2,91.0 556.2,88.0 553.0,85.9ZM487.0,136.7 490.0,136.5 493.0,139.6 496.0,143.8 499.0,150.8 501.4,160.0 503.4,163.0 511.0,169.9 514.5,172.0 520.0,174.3 526.0,175.1 529.0,174.9 547.0,170.8 559.0,171.4 565.0,170.9 571.0,168.5 577.0,164.4 577.0,285.0 559.0,280.9 547.0,279.8 538.0,277.7 532.0,275.4 505.0,262.5 496.0,256.9 493.1,253.0 492.2,250.0 491.0,241.0 491.8,235.0 493.0,230.5 495.1,226.0 504.4,217.0 506.4,214.0 508.6,208.0 509.0,205.0 508.4,202.0 506.1,199.0 502.0,196.6 496.0,193.8 490.0,191.9 484.0,191.7 472.0,193.3 466.0,194.8 460.0,199.1 455.0,205.0 451.9,211.0 451.0,214.0 450.5,220.0 450.7,226.0 453.0,256.0 452.5,262.0 448.6,280.0 448.6,286.0 449.6,295.0 449.5,301.0 448.2,307.0 445.6,313.0 443.4,316.0 440.1,319.0 434.5,322.0 421.0,326.5 417.9,328.0 409.0,334.3 403.0,335.4 391.0,335.1 382.0,336.1 378.9,337.0 370.0,341.3 364.0,342.4 355.0,341.6 349.0,339.7 343.0,336.9 340.0,336.2 331.0,337.6 325.0,337.6 304.0,333.7 297.3,331.0 288.5,325.0 286.2,322.0 285.0,319.0 284.7,316.0 286.3,307.0 287.2,304.0 289.0,301.0 292.0,298.8 295.0,298.3 301.0,299.0 304.0,298.1 307.5,295.0 309.1,292.0 310.3,286.0 311.3,274.0 311.3,262.0 312.3,250.0 311.9,247.0 310.7,244.0 308.5,241.0 302.2,235.0 293.1,229.0 290.8,226.0 289.7,223.0 289.7,220.0 290.8,217.0 293.0,214.0 304.0,202.3 313.0,191.1 323.0,175.0 325.1,169.0 326.6,157.0 328.1,151.0 331.0,145.6 334.0,142.6 337.0,140.8 343.0,139.3 349.0,139.9 355.0,142.6 358.2,145.0 361.0,148.0 362.6,151.0 362.7,157.0 363.4,160.0 367.0,164.1 370.0,164.1 371.9,163.0 373.9,160.0 373.4,157.0 371.5,154.0 371.8,151.0 373.0,150.6 376.0,152.5 379.0,155.5 382.0,156.9 391.0,158.6 400.0,161.0 406.0,161.1 418.0,156.9 424.0,156.3 427.4,157.0 436.0,161.5 439.0,161.9 442.0,160.2 448.0,152.7 451.0,150.2 454.0,148.6 460.0,147.1 469.0,146.6 475.0,145.0 480.7,142.0Z" fill="#0092ff" fill-rule="evenodd"/>
<path d="M421.0,34.0 577.0,34.0 577.0,123.0 571.0,119.6 568.0,119.1 556.0,120.1 526.0,117.0 499.0,117.1 490.0,118.1 484.0,117.2 481.0,115.9 475.0,111.5 463.0,100.4 460.0,96.8 452.1,85.0 439.0,62.6 419.8,37.0 418.2,34.0ZM549.9,85.0 548.1,88.0 548.5,91.0 550.0,93.1 553.0,94.6 556.0,94.0 558.3,91.0 558.6,88.0 556.9,85.0 553.0,83.7ZM340.0,144.0 346.0,144.0 349.3,145.0 354.3,148.0 358.0,152.2 364.0,164.1 367.0,166.3 370.0,166.5 371.5,166.0 379.0,161.2 382.0,160.7 391.0,160.7 400.0,163.4 406.0,163.8 412.0,162.0 418.0,159.2 421.0,158.4 424.0,158.5 427.0,159.5 436.0,165.6 439.0,166.1 442.0,164.9 447.3,157.0 450.0,154.0 454.0,151.1 457.0,149.9 463.0,149.2 472.0,149.5 487.0,148.1 490.0,149.0 492.1,151.0 493.5,154.0 496.1,163.0 499.0,168.2 502.0,171.7 506.3,175.0 520.0,182.6 526.0,185.3 529.0,185.3 538.0,180.4 544.0,178.6 550.0,179.1 559.0,182.5 562.0,182.5 577.0,173.1 577.0,280.5 568.0,278.6 559.0,275.8 547.0,274.7 532.0,270.9 505.0,259.6 499.0,256.4 496.0,253.9 494.1,250.0 492.5,241.0 493.0,236.7 494.5,232.0 496.0,228.4 497.9,226.0 507.6,217.0 511.8,211.0 514.8,205.0 515.6,202.0 515.4,199.0 513.2,196.0 505.0,192.5 499.0,189.1 496.0,188.0 493.0,187.6 487.0,188.1 478.0,190.6 469.0,192.1 463.0,195.0 455.7,202.0 449.8,211.0 448.9,214.0 448.4,220.0 449.3,235.0 451.0,247.0 451.5,256.0 451.0,262.0 447.3,280.0 448.2,298.0 447.1,304.0 445.0,309.3 442.0,313.8 439.0,316.7 433.0,320.1 418.0,325.6 406.0,332.1 400.0,332.8 391.0,332.5 382.0,333.4 370.0,337.6 364.0,338.7 355.0,338.0 343.0,333.6 340.0,333.1 331.0,334.9 325.0,335.0 307.0,331.4 298.5,328.0 294.3,325.0 291.6,322.0 290.0,319.0 289.3,313.0 289.9,307.0 290.7,304.0 293.3,301.0 295.0,300.4 301.0,300.8 304.0,300.1 307.3,298.0 309.9,295.0 311.3,292.0 312.9,286.0 314.0,277.0 314.9,262.0 316.3,253.0 316.5,247.0 315.8,244.0 314.1,241.0 311.5,238.0 304.0,232.0 297.9,229.0 294.6,226.0 294.1,223.0 294.8,220.0 296.6,217.0 307.0,204.2 322.0,183.4 326.6,178.0 328.3,175.0 328.9,172.0 329.4,160.0 331.0,152.3 334.0,147.4 337.0,145.1Z" fill="#009fff" fill-rule="evenodd"/>
<path d="M433.0,34.0 577.0,34.0 577.0,119.3 571.0,116.9 568.0,116.3 559.0,116.9 529.0,114.3 511.0,114.2 499.0,112.7 490.0,112.5 484.0,111.0 481.0,109.5 466.0,98.9 463.0,95.9 459.5,91.0 454.6,82.0 444.2,58.0 432.3,37.0 431.1,34.0ZM552.9,82.0 550.0,83.1 547.9,85.0 546.4,88.0 546.7,91.0 550.0,95.6 553.0,97.1 556.0,97.0 559.5,94.0 560.8,91.0 560.9,88.0 559.0,84.1 556.0,82.2ZM343.0,147.9 346.0,148.5 352.0,151.8 358.0,157.8 364.0,167.0 367.0,168.7 370.0,168.9 373.0,168.2 382.0,164.7 388.0,163.5 391.0,163.4 400.0,166.6 406.0,167.0 412.0,165.4 418.0,161.9 421.0,160.8 424.0,161.1 427.0,162.9 433.0,168.7 436.0,170.1 439.0,170.4 442.0,169.6 445.0,166.9 448.0,160.0 451.0,156.0 454.0,153.7 457.0,152.2 460.0,151.6 481.0,153.9 484.0,155.1 486.8,157.0 488.6,160.0 492.7,172.0 493.0,175.0 492.5,178.0 490.1,181.0 480.6,187.0 475.0,189.0 466.0,191.1 463.0,193.2 451.6,205.0 447.5,211.0 446.4,214.0 446.1,217.0 447.3,235.0 449.2,247.0 449.9,256.0 449.5,262.0 446.1,280.0 446.9,292.0 446.7,298.0 445.0,304.4 442.0,310.0 439.0,313.5 433.0,317.5 415.0,324.6 406.0,328.7 403.0,329.5 394.0,329.6 382.0,330.9 367.0,335.1 361.0,335.5 355.0,334.9 343.0,331.1 340.0,330.7 328.0,332.7 322.0,332.0 310.0,329.4 304.0,327.6 299.4,325.0 296.1,322.0 294.2,319.0 292.8,313.0 293.5,307.0 294.8,304.0 304.0,302.2 307.0,300.4 310.0,297.6 313.5,292.0 316.2,283.0 318.7,262.0 321.4,250.0 321.1,244.0 319.8,241.0 317.8,238.0 313.0,232.9 304.2,226.0 302.0,223.0 302.4,220.0 305.4,214.0 319.0,192.4 325.0,185.8 332.7,181.0 334.0,179.5 334.8,178.0 334.8,175.0 332.7,163.0 333.1,157.0 333.8,154.0 337.0,149.5 340.0,148.1ZM577.0,180.6 577.0,277.0 571.0,275.8 559.0,272.1 550.0,270.9 529.0,265.9 505.0,256.5 498.7,253.0 496.0,249.1 494.7,244.0 494.6,238.0 496.0,233.4 499.0,228.2 508.2,220.0 520.0,208.2 523.0,206.0 526.0,204.8 529.0,204.3 541.0,204.8 550.0,202.2 556.0,202.3 565.0,204.6 568.0,204.8 571.0,203.7 572.9,202.0 574.9,199.0 575.3,196.0 573.0,190.0 572.4,187.0 573.1,184.0Z" fill="#00abff" fill-rule="evenodd"/>
<path d="M442.0,34.0 577.0,34.0 577.0,116.4 568.0,113.7 559.0,113.4 553.0,112.2 541.0,112.5 529.0,111.5 514.0,111.6 508.0,111.1 490.0,108.3 487.0,107.5 481.0,104.5 469.0,97.0 466.0,94.6 461.1,88.0 458.2,82.0 456.2,76.0 450.6,55.0 442.8,37.0ZM549.2,82.0 546.1,85.0 544.9,88.0 545.0,91.0 547.0,95.0 550.0,98.5 553.0,100.6 556.0,100.9 559.0,99.2 562.4,94.0 563.2,91.0 563.3,88.0 562.5,85.0 560.1,82.0 556.0,80.1 553.0,80.2ZM340.0,153.2 343.0,152.9 346.0,153.8 352.0,157.4 358.0,162.1 362.2,169.0 364.0,170.7 367.0,171.9 370.0,171.9 379.0,169.7 388.0,168.4 391.0,168.5 400.0,171.0 409.0,170.9 415.3,169.0 421.0,165.3 424.0,166.6 425.3,169.0 430.0,173.3 436.0,175.6 439.0,175.7 442.0,174.9 446.7,172.0 448.6,169.0 449.4,163.0 451.0,159.5 454.0,156.5 457.0,154.8 460.0,154.0 463.0,154.1 475.9,157.0 481.0,160.0 483.1,163.0 484.3,166.0 485.1,172.0 484.8,175.0 483.6,178.0 481.6,181.0 478.7,184.0 475.0,186.2 466.0,188.6 463.0,190.7 446.5,208.0 444.3,211.0 443.2,214.0 444.6,226.0 445.0,235.0 447.5,247.0 448.3,256.0 448.1,262.0 444.8,280.0 445.7,295.0 444.4,301.0 442.0,306.0 439.0,310.2 433.0,314.9 424.0,319.0 403.0,326.1 394.0,326.7 382.0,328.5 370.0,331.6 364.0,332.5 355.0,332.0 343.0,329.0 340.0,328.7 328.0,330.5 322.0,329.7 310.0,326.9 305.0,325.0 300.4,322.0 298.0,319.0 296.7,316.0 296.4,313.0 296.8,310.0 298.0,307.6 307.0,302.7 310.0,300.0 313.8,295.0 317.1,289.0 319.9,280.0 322.7,262.0 327.1,247.0 327.1,244.0 324.2,238.0 311.9,223.0 310.9,220.0 311.7,214.0 316.7,202.0 322.0,193.5 328.0,188.2 335.8,184.0 338.9,181.0 340.1,178.0 340.1,175.0 337.0,165.1 336.6,160.0 337.1,157.0ZM577.0,207.1 577.0,273.8 552.8,268.0 541.0,263.2 538.0,262.5 529.0,261.8 526.0,260.9 505.0,253.2 502.0,251.5 499.0,248.6 497.1,244.0 496.5,241.0 496.8,238.0 499.5,232.0 502.0,228.8 511.0,220.9 517.0,216.1 523.0,212.4 529.0,210.7 541.0,210.2 553.0,208.8 568.0,210.2 571.0,209.7Z" fill="#00b8ff" fill-rule="evenodd"/>
<path d="M454.0,34.0 577.0,34.0 577.0,113.6 563.3,109.0 561.1,106.0 561.6,103.0 565.1,94.0 565.9,88.0 565.0,84.6 562.0,80.4 559.0,78.6 556.0,78.0 553.0,78.4 550.0,79.7 547.0,81.9 544.4,85.0 543.2,88.0 543.2,91.0 544.4,94.0 548.3,100.0 549.4,103.0 549.1,106.0 547.0,107.7 544.0,109.0 538.0,109.5 529.0,108.7 511.0,108.9 493.0,105.5 484.0,102.2 470.3,94.0 466.8,91.0 464.4,88.0 462.7,85.0 460.5,79.0 458.2,67.0 457.9,55.0 457.4,52.0 451.3,34.0ZM457.0,158.3 460.0,157.3 463.0,157.8 472.0,160.8 475.0,162.5 477.0,166.0 477.7,172.0 475.9,178.0 473.7,181.0 466.0,184.7 463.0,187.0 456.4,196.0 454.0,198.5 438.8,211.0 438.2,214.0 442.0,224.8 442.3,235.0 442.8,238.0 445.0,244.0 446.8,259.0 443.4,280.0 444.3,295.0 442.0,302.0 439.0,306.6 436.0,309.8 431.5,313.0 424.0,316.5 406.0,322.0 379.0,326.5 367.0,329.3 355.0,329.2 340.0,326.8 331.0,328.3 325.0,328.0 311.8,325.0 305.4,322.0 301.8,319.0 300.2,316.0 300.0,313.0 301.2,310.0 310.0,302.6 317.8,292.0 321.3,286.0 323.1,280.0 326.8,262.0 331.7,247.0 331.9,244.0 330.1,238.0 320.0,223.0 318.6,220.0 317.9,214.0 319.7,205.0 322.1,199.0 325.0,195.0 328.0,192.4 340.0,185.4 344.3,181.0 346.8,175.0 347.1,172.0 346.4,166.0 349.0,165.0 352.0,165.7 355.0,167.9 358.3,172.0 361.0,174.2 367.0,177.2 370.0,177.3 376.0,175.1 379.0,174.9 385.0,176.1 391.0,178.1 394.0,178.2 403.0,177.1 418.0,177.4 436.0,182.6 439.0,183.0 442.0,181.8 451.4,175.0 453.2,172.0 453.4,169.0 452.8,163.0 454.4,160.0ZM550.0,213.8 568.0,214.5 577.0,212.7 577.0,270.6 556.0,265.9 541.0,257.3 538.0,256.7 529.0,256.8 514.0,252.9 505.0,248.9 502.6,247.0 500.6,244.0 499.7,241.0 500.0,238.0 503.1,232.0 508.8,226.0 517.0,220.2 523.0,217.2 529.0,215.5Z" fill="#00c4ff" fill-rule="evenodd"/>
<path d="M460.0,34.0 577.0,34.0 577.0,110.5 572.2,109.0 567.8,106.0 566.4,103.0 566.4,100.0 568.6,91.0 568.2,85.0 567.0,82.0 564.6,79.0 562.0,77.0 559.0,76.0 556.0,75.8 553.0,76.5 550.0,77.9 544.9,82.0 542.5,85.0 541.4,88.0 541.3,91.0 542.2,94.0 545.4,100.0 545.4,103.0 544.0,104.9 541.0,106.3 526.0,105.8 514.0,106.6 508.0,106.0 490.0,101.4 484.0,98.7 472.0,91.7 469.0,89.2 466.0,85.4 463.3,79.0 462.3,73.0 462.2,67.0 464.6,55.0 464.5,52.0 460.9,40.0ZM352.0,183.1 355.0,182.3 358.0,182.4 361.0,183.7 367.0,187.9 370.0,188.3 379.0,184.4 382.0,184.3 391.0,185.8 400.0,185.6 406.0,187.7 409.0,188.0 418.0,184.5 421.0,184.6 439.0,188.7 442.0,188.0 451.0,182.8 454.0,181.9 457.0,182.4 457.8,184.0 457.4,190.0 456.3,193.0 454.2,196.0 450.8,199.0 445.0,202.7 433.0,207.1 431.7,208.0 430.4,211.0 437.7,226.0 438.5,229.0 437.9,235.0 438.4,238.0 442.0,242.3 442.7,244.0 445.3,259.0 444.7,265.0 442.1,280.0 443.1,292.0 442.9,295.0 442.0,298.0 439.0,303.0 436.0,306.4 431.4,310.0 421.0,314.8 400.0,320.2 391.0,322.4 379.0,323.8 370.0,326.0 364.0,326.6 352.0,326.3 340.0,324.8 331.0,326.1 325.0,325.6 312.0,322.0 306.8,319.0 304.2,316.0 304.1,313.0 306.1,310.0 310.0,305.8 316.0,296.6 323.3,289.0 324.7,286.0 330.0,265.0 335.5,247.0 335.6,241.0 334.0,235.0 324.6,217.0 323.6,211.0 325.0,202.0 326.5,199.0 331.0,194.6ZM529.0,219.9 547.0,218.3 568.0,218.2 577.0,217.3 577.0,267.4 559.0,263.8 555.4,262.0 547.0,255.2 541.0,252.0 538.0,251.4 529.0,251.6 520.0,250.2 511.0,247.2 506.5,244.0 504.7,241.0 504.5,238.0 505.4,235.0 507.1,232.0 509.6,229.0 514.0,225.5 517.0,223.9 523.0,221.5Z" fill="#00d1ff" fill-rule="evenodd"/>
<path d="M469.0,34.0 577.0,34.0 577.0,106.4 574.0,105.5 571.0,103.2 570.0,100.0 572.1,91.0 572.2,88.0 570.6,82.0 568.0,77.8 565.0,75.1 562.0,73.6 559.0,73.1 553.0,74.1 550.0,75.8 542.7,82.0 540.4,85.0 539.1,88.0 538.7,91.0 539.3,94.0 541.1,97.0 542.1,100.0 541.0,102.1 538.5,103.0 529.0,102.4 514.0,104.1 508.0,103.5 490.0,98.3 484.0,95.6 475.0,90.5 471.6,88.0 468.8,85.0 467.0,82.0 465.4,76.0 465.3,70.0 465.8,67.0 470.0,55.0 470.3,52.0 467.4,37.0 467.3,34.0ZM346.0,192.1 352.0,190.9 355.0,190.9 367.0,193.8 370.0,193.7 379.0,191.9 388.0,192.8 400.0,192.1 409.0,192.7 421.0,190.7 436.9,193.0 439.0,193.7 442.0,193.6 448.0,190.8 451.0,190.0 452.2,193.0 449.6,196.0 445.0,198.1 433.0,200.9 430.0,202.1 427.0,205.0 425.9,208.0 425.8,211.0 426.7,214.0 429.7,220.0 429.2,226.0 429.6,229.0 431.1,232.0 432.7,241.0 433.0,241.8 436.0,243.2 439.3,244.0 440.6,247.0 443.6,259.0 443.2,265.0 440.5,280.0 441.6,292.0 441.2,295.0 439.0,299.5 433.0,305.2 430.0,307.4 424.0,310.2 409.0,313.7 394.0,319.3 388.0,320.5 379.0,320.8 367.0,323.1 352.0,323.6 340.0,322.6 328.0,323.5 322.1,322.0 316.0,319.7 310.9,316.0 310.1,313.0 314.8,301.0 319.0,295.7 325.0,292.0 328.0,286.7 339.2,247.0 340.0,241.0 339.5,235.0 337.5,229.0 330.2,214.0 329.2,208.0 330.2,202.0 332.0,199.0 335.8,196.0ZM538.0,223.0 577.0,221.4 577.0,263.6 570.6,262.0 568.0,260.3 560.4,259.0 550.0,251.1 544.0,247.9 538.0,246.4 526.0,245.8 520.0,244.9 514.0,242.7 511.0,240.0 510.1,238.0 510.1,235.0 511.4,232.0 514.4,229.0 522.8,226.0Z" fill="#00ddff" fill-rule="evenodd"/>
<path d="M478.0,34.0 577.0,34.0 577.0,84.4 571.6,76.0 568.0,72.1 565.0,70.5 559.0,69.7 553.0,71.2 550.0,73.2 540.1,82.0 536.1,88.0 534.7,94.0 532.0,97.1 517.0,100.8 511.0,101.3 490.0,95.2 484.0,92.7 475.7,88.0 472.0,85.0 469.0,80.3 467.9,76.0 468.3,70.0 469.2,67.0 475.8,55.0 476.6,49.0 475.0,40.0 475.1,37.0 475.7,34.0ZM343.0,198.2 352.0,197.8 364.0,200.2 376.0,201.4 388.0,204.4 391.0,204.4 394.0,203.6 403.0,199.4 405.1,199.0 415.0,199.7 418.0,200.8 420.0,205.0 422.1,214.0 424.9,220.0 425.6,223.0 425.6,229.0 428.4,238.0 430.4,250.0 433.0,252.1 439.0,253.6 441.9,259.0 441.7,265.0 438.8,280.0 440.0,292.0 439.0,295.8 436.0,299.2 427.0,304.2 421.0,306.1 409.0,308.8 395.0,316.0 391.0,317.4 388.0,317.8 376.0,317.4 367.0,319.1 352.0,320.7 340.0,320.3 331.0,320.6 324.5,319.0 319.0,315.7 316.7,313.0 315.6,310.0 315.6,304.0 316.6,301.0 319.0,297.7 325.9,295.0 328.0,293.3 330.9,289.0 345.1,241.0 345.9,235.0 345.3,229.0 342.8,223.0 337.0,212.4 335.7,208.0 335.6,205.0 336.5,202.0 340.0,199.1ZM565.0,225.8 577.0,225.5 577.0,249.3 570.2,247.0 559.0,247.7 556.0,246.9 547.0,242.8 528.8,238.0 526.0,236.4 519.6,235.0 526.0,233.7 528.2,232.0 534.1,229.0 538.0,227.8 553.0,227.4Z" fill="#00eaff" fill-rule="evenodd"/>
<path d="M493.0,36.2 494.1,34.0 577.0,34.0 577.0,70.9 573.0,67.0 571.0,65.7 568.0,64.8 562.0,64.7 556.0,65.9 550.0,69.4 544.1,76.0 536.6,82.0 529.0,91.2 524.6,94.0 514.0,97.7 511.0,97.8 508.0,97.2 487.0,91.2 478.0,86.6 472.7,82.0 471.0,79.0 470.3,76.0 470.5,73.0 473.0,67.0 481.3,58.0 486.7,46.0ZM394.0,222.8 403.0,222.5 412.0,220.8 415.0,221.6 418.0,224.1 424.0,235.0 426.1,241.0 427.7,250.0 430.0,253.2 436.0,255.5 439.0,257.7 440.2,262.0 436.8,280.0 438.0,292.0 436.6,295.0 433.0,297.2 424.0,297.8 418.0,300.2 409.0,302.3 406.0,303.7 391.0,313.6 388.0,314.0 376.0,311.8 370.0,312.8 355.0,317.1 346.0,317.9 331.0,316.9 328.0,315.8 325.0,313.8 319.0,306.8 318.1,304.0 318.6,301.0 322.0,298.5 328.0,296.9 330.9,295.0 333.6,292.0 335.0,289.0 340.0,271.7 347.6,250.0 349.0,247.3 358.0,234.3 361.0,232.0 364.0,231.1 370.0,230.8 376.0,229.3 385.0,224.3ZM562.0,231.4 568.0,229.7 571.0,229.4 577.0,230.0 577.0,243.9 571.0,243.6 565.0,242.4 560.9,241.0 559.0,239.5 557.2,238.0 556.9,235.0 560.3,232.0Z" fill="#00f4fa" fill-rule="evenodd"/>
<path d="M514.0,37.0 517.6,34.0 535.5,34.0 542.3,40.0 550.0,43.8 553.2,46.0 555.9,49.0 557.3,52.0 557.4,55.0 555.4,58.0 550.0,62.9 541.0,75.1 526.0,86.2 517.0,91.0 511.0,92.3 490.0,89.1 481.0,85.4 476.2,82.0 473.8,79.0 472.9,76.0 473.3,73.0 475.0,69.6 478.0,66.4 484.6,61.0 496.0,48.4 502.0,43.8 509.4,40.0ZM412.0,231.9 415.0,232.3 418.0,233.8 421.0,236.7 423.2,241.0 425.3,250.0 426.7,253.0 430.0,255.9 436.0,258.4 438.1,262.0 438.0,265.0 434.5,280.0 434.2,283.0 435.4,289.0 434.5,292.0 433.0,293.0 427.0,291.4 424.0,291.2 421.0,291.9 406.0,297.8 397.0,303.3 391.0,306.0 388.0,306.3 385.0,305.6 379.0,303.0 376.0,302.5 373.0,303.1 367.0,305.7 355.0,312.9 349.0,314.6 343.0,314.8 332.9,313.0 328.0,310.1 322.4,304.0 324.7,301.0 328.0,300.1 332.1,298.0 337.0,294.4 338.4,292.0 342.6,277.0 346.0,268.3 352.0,257.2 355.0,253.7 358.0,251.6 364.0,249.7 373.0,250.2 374.3,247.0 374.5,244.0 375.9,241.0 378.6,238.0 385.0,234.2 391.0,233.2 400.0,235.2 409.0,232.4ZM571.0,234.6 574.0,235.1 575.4,238.0 574.0,238.7 571.0,239.1 568.8,238.0 569.8,235.0Z" fill="#00fbf0" fill-rule="evenodd"/>
<path d="M520.0,45.3 526.0,45.1 532.0,46.7 538.0,50.5 541.7,55.0 542.6,58.0 542.0,64.0 539.4,70.0 536.5,73.0 526.0,78.8 520.0,81.3 506.5,85.0 499.0,86.1 493.0,86.2 487.0,85.0 481.0,82.1 477.4,79.0 476.2,76.0 476.9,73.0 479.2,70.0 482.7,67.0 505.0,51.6 514.0,47.2ZM388.0,240.4 391.0,239.8 400.0,241.3 403.0,241.1 412.0,238.6 415.0,238.5 418.0,239.7 421.0,244.0 423.7,253.0 425.6,256.0 427.0,257.3 433.0,260.1 435.2,262.0 435.6,265.0 433.0,275.0 430.0,282.6 427.0,284.6 421.0,284.7 418.0,285.6 412.0,288.5 400.0,295.7 394.0,297.5 388.0,297.6 379.0,295.7 376.0,295.7 364.0,298.1 361.0,299.5 359.2,301.0 354.6,307.0 350.9,310.0 349.0,310.8 346.0,311.3 343.0,311.1 338.8,310.0 333.4,307.0 331.6,304.0 340.0,298.4 342.6,295.0 343.9,292.0 346.0,282.1 348.9,274.0 355.0,265.3 358.0,262.5 361.0,260.7 364.0,259.7 373.0,259.4 376.0,258.4 379.0,255.1 381.6,247.0 383.2,244.0 385.0,242.1Z" fill="#00ffe5" fill-rule="evenodd"/>
<path d="M520.0,54.7 526.0,55.7 530.0,58.0 532.0,60.1 533.1,64.0 531.7,67.0 526.0,70.0 523.0,70.7 517.0,71.1 511.0,70.5 508.0,71.0 505.0,73.6 500.7,79.0 494.2,82.0 490.0,82.2 487.0,81.4 483.0,79.0 481.1,76.0 481.9,73.0 484.8,70.0 487.0,68.5 493.0,66.0 505.0,63.1 514.0,56.4 517.0,55.1ZM412.0,246.3 415.0,246.3 418.0,249.0 420.2,256.0 422.1,259.0 424.0,260.8 430.5,265.0 430.0,270.4 427.0,274.5 421.0,273.6 418.0,273.8 412.0,276.0 409.0,278.4 403.1,286.0 400.0,288.9 397.0,289.7 394.0,289.5 382.0,286.9 376.0,287.2 367.0,289.8 364.0,290.2 361.0,290.0 357.7,289.0 355.7,286.0 355.5,283.0 357.7,277.0 359.8,274.0 364.0,269.3 367.0,267.0 370.0,265.9 379.0,266.2 382.0,264.9 385.0,260.8 385.7,259.0 386.3,253.0 388.0,249.2 391.0,248.3 400.0,249.4 403.0,249.2Z" fill="#00ffd8" fill-rule="evenodd"/>
<path d="M490.0,72.9 490.8,73.0 492.4,76.0 490.0,76.9 488.3,76.0Z" fill="#00ffcc" fill-rule="evenodd"/>
</g>
<path d="M168.5,37V467M236.5,37V467M304.5,37V467M372.5,37V467M440.5,37V467M507.5,37V467M154,397.5H577M154,329.5H577M154,259.5H577M154,188.5H577M154,115.5H577" stroke="#000" stroke-width="1" fill="none" shape-rendering="crispEdges"/>
<path d="M155.0,410.8L149.1,398.1M155.0,397.0L152.5,383.1M155.0,383.5L157.4,369.5M155.0,369.9L159.8,356.6M155.0,356.3L160.9,343.6M168.6,424.6L160.6,413.3M168.6,410.8L160.5,399.4M168.6,397.0L161.5,384.8M168.6,383.5L166.1,369.5M168.6,342.7L178.7,333.1M168.6,329.0L180.7,322.0M168.6,315.1L181.3,309.2M168.6,301.2L181.1,295.0M182.1,424.6L173.2,414.0M182.1,369.9L189.3,357.9M182.1,356.3L192.3,346.7M182.1,342.7L194.3,335.6M182.1,329.0L195.0,323.0M182.1,315.1L195.1,309.1M182.1,301.2L195.0,295.2M195.7,438.4L186.9,427.9M195.7,369.9L206.1,360.5M195.7,356.3L207.1,347.9M195.7,342.7L207.7,335.2M195.7,329.0L208.6,323.0M195.7,315.1L208.8,309.2M195.7,301.2L208.6,295.1M209.3,383.5L215.0,370.6M209.3,369.9L219.2,359.9M209.3,356.3L220.4,347.6M209.3,342.7L221.7,335.8M209.3,329.0L222.1,323.0M209.3,315.1L221.9,308.7M222.9,466.0L215.0,454.6M222.9,452.2L216.6,439.8M222.9,424.6L221.6,410.7M222.9,410.8L222.4,396.8M222.9,397.0L224.1,383.0M222.9,383.5L226.4,369.9M222.9,369.9L229.9,357.7M222.9,356.3L231.1,344.8M222.9,342.7L235.1,335.6M222.9,329.0L234.2,320.6M236.4,466.0L228.7,454.4M236.4,452.2L230.5,439.5M236.4,438.4L232.8,424.9M236.4,424.6L235.2,410.6M236.4,410.8L236.4,396.8M236.4,397.0L236.4,382.9M236.4,383.5L236.4,369.4M236.4,369.9L236.4,355.7M236.4,356.3L236.9,342.2M250.0,466.0L242.0,454.5M250.0,452.2L243.0,440.0M250.0,438.4L245.6,425.0M250.0,424.6L249.5,410.6M250.0,410.8L249.5,396.8M250.0,397.0L250.0,382.9M250.0,383.5L250.5,369.3M250.0,369.9L251.2,355.8M250.0,356.3L252.9,342.5M250.0,342.7L253.7,329.0M250.0,202.4L262.9,197.3M263.6,466.0L255.5,454.5M263.6,452.2L255.5,440.7M263.6,438.4L259.2,425.0M263.6,424.6L263.6,410.5M263.6,410.8L264.1,396.8M263.6,397.0L264.8,382.9M263.6,383.5L266.5,369.6M263.6,369.9L268.4,356.6M263.6,356.3L270.7,344.0M263.6,342.7L271.6,330.8M263.6,329.0L270.8,316.5M263.6,216.6L277.2,212.5M263.6,202.4L276.3,196.4M263.6,188.0L276.7,183.2M277.1,466.0L270.4,453.7M277.1,452.2L271.2,439.5M277.1,438.4L274.7,424.5M277.1,424.6L278.4,410.6M277.1,397.0L282.0,383.7M277.1,383.5L283.8,371.0M277.1,369.9L285.3,358.3M277.1,356.3L286.3,345.4M277.1,342.7L286.8,331.9M277.1,329.0L286.1,317.5M277.1,230.8L291.5,229.6M277.1,216.6L290.9,212.0M277.1,202.4L290.1,196.3M277.1,188.0L289.5,181.4M277.1,173.6L287.8,164.7M290.7,438.4L291.2,424.4M290.7,424.6L295.5,411.4M290.7,410.8L297.3,398.4M290.7,397.0L298.8,385.4M290.7,383.5L299.5,372.3M290.7,369.9L299.8,359.0M290.7,356.3L300.6,346.0M290.7,342.7L300.9,332.5M290.7,329.0L300.1,317.8M290.7,315.1L299.1,302.9M290.7,259.0L298.6,247.4M290.7,245.0L299.1,233.5M290.7,230.8L301.0,220.5M290.7,216.6L303.8,210.0M290.7,188.0L303.9,182.9M290.7,173.6L303.9,169.4M304.3,438.4L308.1,425.0M304.3,424.6L311.8,412.7M304.3,410.8L313.0,399.7M304.3,397.0L313.4,386.2M304.3,383.5L313.8,372.9M304.3,369.9L313.8,359.3M304.3,356.3L314.4,346.2M304.3,342.7L314.5,332.4M304.3,329.0L313.8,317.6M304.3,315.1L312.3,302.2M304.3,301.2L312.1,288.5M304.3,287.2L311.6,274.6M304.3,273.1L311.8,260.7M304.3,259.0L311.1,246.2M304.3,245.0L308.1,230.9M304.3,230.8L311.7,218.0M304.3,216.6L318.5,212.3M304.3,188.0L318.7,187.6M317.9,438.4L323.4,425.7M317.9,424.6L326.5,413.6M317.9,410.8L327.1,400.2M317.9,397.0L327.5,386.7M317.9,383.5L327.8,373.4M317.9,369.9L328.0,359.9M317.9,356.3L328.2,346.5M317.9,342.7L328.3,332.6M317.9,329.0L328.0,318.0M317.9,315.1L327.3,303.0M317.9,301.2L326.9,288.6M317.9,287.2L326.5,274.9M317.9,273.1L326.3,260.8M317.9,259.0L326.4,246.8M317.9,245.0L324.6,231.7M317.9,230.8L330.6,222.9M317.9,216.6L332.3,212.2M317.9,202.4L332.0,197.2M317.9,188.0L332.1,191.8M317.9,173.6L329.0,183.0M331.4,424.6L339.5,413.2M331.4,410.8L340.5,400.1M331.4,397.0L341.3,386.8M331.4,383.5L341.8,373.6M331.4,369.9L342.0,360.4M331.4,356.3L342.2,346.8M331.4,342.7L342.3,332.9M331.4,329.0L342.4,318.7M331.4,315.1L342.2,304.0M331.4,301.2L341.9,289.5M331.4,287.2L341.3,275.4M331.4,273.1L341.0,261.2M331.4,259.0L340.4,246.8M331.4,245.0L340.1,232.6M331.4,230.8L343.0,221.1M331.4,216.6L345.9,211.9M331.4,202.4L345.8,197.1M331.4,188.0L346.4,188.0M331.4,173.6L343.6,182.1M345.0,410.8L353.9,400.0M345.0,397.0L355.0,387.0M345.0,383.5L355.6,373.8M345.0,369.9L355.6,360.3M345.0,356.3L356.3,347.3M345.0,342.7L356.6,333.8M345.0,329.0L356.8,319.7M345.0,315.1L356.9,305.1M345.0,301.2L356.7,290.7M345.0,287.2L356.2,276.2M345.0,273.1L355.8,261.9M345.0,259.0L355.2,247.5M345.0,245.0L354.5,232.9M345.0,230.8L356.2,220.4M345.0,216.6L358.9,210.1M345.0,202.4L358.7,195.4M345.0,188.0L359.1,182.3M345.0,173.6L359.5,177.5M345.0,159.1L360.0,159.8M358.6,397.0L368.5,386.9M358.6,383.5L369.5,374.3M358.6,369.9L370.0,361.3M358.6,356.3L370.6,348.2M358.6,342.7L371.1,334.9M358.6,329.0L371.3,320.8M358.6,315.1L371.1,306.1M358.6,301.2L370.8,291.5M358.6,287.2L370.6,277.1M358.6,273.1L370.4,262.9M358.6,259.0L370.5,249.0M358.6,245.0L369.1,233.7M358.6,230.8L369.3,219.8M358.6,216.6L371.2,207.8M358.6,202.4L371.0,193.3M358.6,188.0L371.8,180.4M358.6,173.6L367.2,161.3M358.6,159.1L369.4,148.8M372.2,383.5L383.0,374.4M372.2,369.9L384.0,362.0M372.2,356.3L384.7,349.1M372.2,342.7L385.1,335.7M372.2,329.0L385.4,321.9M372.2,315.1L385.0,306.7M372.2,301.2L384.7,292.0M372.2,287.2L384.6,277.6M372.2,273.1L384.4,263.3M372.2,259.0L384.1,249.0M372.2,245.0L383.6,234.5M372.2,230.8L383.5,220.4M372.2,216.6L384.0,206.8M372.2,202.4L383.9,192.5M372.2,188.0L382.8,177.3M372.2,173.6L380.1,160.9M372.2,159.1L379.1,146.2M385.8,383.5L396.2,374.0M385.8,369.9L397.7,362.4M385.8,356.3L398.1,349.2M385.8,342.7L398.6,336.0M385.8,329.0L398.8,321.8M385.8,315.1L398.4,306.3M385.8,301.2L398.4,292.2M385.8,287.2L398.3,277.9M385.8,273.1L398.1,263.5M385.8,259.0L397.9,249.1M385.8,245.0L397.7,234.9M385.8,230.8L397.5,220.8M385.8,216.6L397.5,206.8M385.8,202.4L397.2,192.2M385.8,188.0L396.2,177.0M385.8,173.6L394.4,161.3M385.8,159.1L392.7,146.1M385.8,144.5L391.7,131.7M399.3,342.7L412.1,335.9M399.3,329.0L412.2,321.5M399.3,315.1L412.3,307.0M399.3,301.2L412.2,292.5M399.3,287.2L412.1,278.0M399.3,273.1L411.7,263.5M399.3,259.0L411.6,249.2M399.3,245.0L411.5,235.1M399.3,230.8L411.3,221.1M399.3,216.6L411.2,206.9M399.3,202.4L411.0,192.5M399.3,188.0L410.6,177.9M399.3,173.6L408.7,161.9M399.3,159.1L406.2,146.2M399.3,144.5L405.1,131.6M412.9,466.0L412.0,452.4M412.9,424.6L414.2,411.0M412.9,410.8L415.5,397.4M412.9,383.5L420.5,371.9M412.9,369.9L422.4,359.7M412.9,356.3L423.4,346.9M412.9,329.0L424.6,319.9M412.9,315.1L425.8,307.1M412.9,301.2L425.7,292.6M412.9,287.2L425.6,278.1M412.9,273.1L425.4,263.6M412.9,259.0L425.2,249.2M412.9,245.0L425.1,235.2M412.9,230.8L425.1,221.3M412.9,216.6L424.9,207.0M412.9,202.4L424.8,192.6M412.9,188.0L424.3,178.1M412.9,173.6L423.5,163.0M412.9,159.1L421.3,147.1M412.9,144.5L418.9,131.6M412.9,129.8L418.0,116.7M426.5,466.0L424.5,452.5M426.5,452.2L426.5,438.6M426.5,438.4L426.5,424.8M426.5,424.6L426.7,411.0M426.5,410.8L426.5,397.1M426.5,397.0L429.5,383.6M426.5,383.5L432.5,371.0M426.5,369.9L434.8,358.7M426.5,356.3L435.5,345.5M426.5,342.7L435.8,332.0M426.5,315.1L437.7,305.1M426.5,301.2L438.6,291.8M426.5,287.2L439.1,278.0M426.5,273.1L438.7,263.3M426.5,259.0L438.4,248.9M426.5,245.0L438.2,235.0M426.5,230.8L438.5,221.4M426.5,216.6L438.3,207.0M426.5,202.4L438.3,192.7M426.5,188.0L438.1,178.2M426.5,173.6L438.0,164.0M426.5,159.1L436.0,147.8M426.5,144.5L432.5,131.5M426.5,129.8L432.4,117.0M426.5,115.0L430.5,101.5M440.1,452.2L436.2,439.1M440.1,438.4L436.7,425.1M440.1,424.6L439.6,410.9M440.1,410.8L440.1,397.0M440.1,397.0L441.3,383.2M440.1,383.5L444.0,370.1M440.1,369.9L448.1,358.4M440.1,356.3L448.7,345.1M440.1,342.7L448.8,331.4M440.1,329.0L449.4,318.0M440.1,315.1L450.5,304.6M440.1,301.2L451.3,291.0M440.1,287.2L451.5,277.1M440.1,273.1L451.3,262.7M440.1,259.0L451.0,248.1M440.1,230.8L451.0,220.4M440.1,216.6L451.3,206.7M440.1,202.4L451.9,192.8M440.1,188.0L452.1,178.9M440.1,173.6L452.3,165.0M440.1,159.1L451.3,149.7M440.1,144.5L447.2,132.1M440.1,129.8L446.1,116.9M440.1,115.0L446.7,102.5M440.1,99.7L428.3,107.9M453.6,466.0L447.1,454.0M453.6,438.4L444.7,427.9M453.6,424.6L447.7,412.1M453.6,410.8L451.2,397.1M453.6,397.0L450.9,383.4M453.6,383.5L452.8,369.5M453.6,369.9L457.8,356.5M453.6,356.3L461.7,344.7M453.6,342.7L462.4,331.4M453.6,329.0L463.3,318.3M453.6,315.1L463.5,304.6M453.6,301.2L463.7,290.8M453.6,202.4L465.3,193.1M453.6,188.0L466.0,179.2M453.6,173.6L466.2,165.3M453.6,159.1L465.8,150.3M453.6,115.0L440.9,121.7M453.6,99.7L441.0,107.0M453.6,84.2L438.9,85.5M453.6,68.6L438.7,70.0M467.2,466.0L459.3,454.7M467.2,438.4L457.3,428.7M467.2,424.6L457.3,414.8M467.2,410.8L458.3,400.2M467.2,397.0L460.1,385.0M467.2,383.5L460.2,371.4M467.2,356.3L472.2,343.2M467.2,342.7L474.8,330.7M467.2,329.0L476.3,318.1M467.2,301.2L476.3,290.5M467.2,287.2L476.1,276.6M467.2,259.0L475.1,247.4M467.2,245.0L474.2,232.8M467.2,202.4L479.4,195.0M467.2,188.0L479.5,179.4M467.2,173.6L480.3,166.0M467.2,159.1L480.5,152.0M467.2,144.5L478.4,135.1M467.2,129.8L462.3,143.4M467.2,115.0L456.9,125.3M467.2,99.7L454.1,106.7M467.2,84.2L452.5,88.2M467.2,68.6L452.0,70.0M467.2,52.9L452.1,51.6M480.8,466.0L472.6,454.8M480.8,438.4L470.4,429.1M480.8,424.6L470.4,415.2M480.8,410.8L471.5,400.5M480.8,397.0L472.8,385.6M480.8,383.5L474.7,371.0M480.8,369.9L478.8,356.2M480.8,342.7L486.7,330.0M480.8,315.1L488.8,303.9M480.8,301.2L489.0,290.1M480.8,287.2L489.1,276.3M480.8,259.0L488.3,247.1M480.8,245.0L486.7,232.2M480.8,230.8L485.6,217.6M480.8,216.6L486.7,203.9M480.8,202.4L495.0,201.1M480.8,188.0L494.7,182.9M480.8,173.6L494.4,167.3M480.8,159.1L493.6,151.4M480.8,144.5L492.5,135.7M480.8,129.8L488.1,117.1M480.8,115.0L469.0,123.9M480.8,99.7L467.5,106.7M480.8,84.2L465.3,84.2M480.8,68.6L465.5,65.4M480.8,52.9L465.9,48.9M480.8,37.0L465.8,33.5M494.3,466.0L486.9,454.3M494.3,438.4L484.8,428.3M494.3,424.6L484.5,414.7M494.3,410.8L485.4,400.1M494.3,397.0L487.2,385.0M494.3,383.5L489.6,370.4M494.3,342.7L499.1,329.6M494.3,315.1L501.3,303.2M494.3,287.2L502.6,275.9M494.3,273.1L503.2,262.1M494.3,259.0L503.1,247.3M494.3,245.0L501.8,232.1M494.3,230.8L501.8,218.1M494.3,216.6L501.6,204.1M494.3,202.4L507.0,195.1M494.3,188.0L508.1,182.5M494.3,173.6L508.3,168.4M494.3,159.1L507.8,152.9M494.3,144.5L479.7,145.8M494.3,129.8L496.9,144.3M494.3,115.0L480.8,121.0M494.3,99.7L479.2,98.3M494.3,84.2L480.2,77.6M494.3,68.6L479.4,63.8M494.3,52.9L479.7,47.9M494.3,37.0L479.6,32.6M507.9,466.0L502.2,453.3M507.9,452.2L502.1,439.5M507.9,438.4L499.9,426.9M507.9,424.6L501.2,412.3M507.9,410.8L500.9,398.7M507.9,397.0L503.1,383.8M507.9,329.0L513.3,316.2M507.9,315.1L513.9,302.6M507.9,287.2L516.0,275.6M507.9,273.1L518.1,262.9M507.9,259.0L518.8,248.9M507.9,245.0L519.0,234.6M507.9,230.8L519.9,221.5M507.9,216.6L518.9,206.7M507.9,202.4L520.0,194.1M507.9,188.0L520.8,180.6M507.9,173.6L522.3,170.3M507.9,159.1L522.2,155.8M507.9,144.5L522.5,143.8M507.9,129.8L521.5,124.4M507.9,115.0L497.4,104.5M507.9,99.7L495.3,90.9M507.9,84.2L494.6,76.2M507.9,68.6L494.4,60.8M507.9,52.9L493.5,47.0M507.9,37.0L493.3,32.0M521.5,466.0L517.4,452.6M521.5,452.2L520.3,438.2M521.5,438.4L520.3,424.4M521.5,424.6L520.3,410.5M521.5,410.8L522.7,396.7M521.5,397.0L521.5,382.9M521.5,383.5L523.1,369.4M521.5,329.0L526.5,315.8M521.5,315.1L526.8,302.0M521.5,301.2L527.5,288.3M521.5,287.2L529.7,275.3M521.5,273.1L531.9,262.8M521.5,259.0L534.2,251.1M521.5,245.0L534.2,236.6M521.5,230.8L534.3,222.5M521.5,216.6L534.1,208.4M521.5,202.4L534.2,194.8M521.5,188.0L535.0,181.8M521.5,173.6L535.7,169.7M521.5,159.1L535.7,156.1M521.5,144.5L535.1,139.6M521.5,129.8L529.8,117.9M521.5,115.0L512.0,103.6M521.5,99.7L509.8,89.8M521.5,84.2L508.3,76.0M521.5,68.6L507.9,60.9M521.5,52.9L507.3,46.4M521.5,37.0L507.0,31.5M535.1,466.0L530.4,452.8M535.1,452.2L532.6,438.4M535.1,438.4L533.1,424.5M535.1,424.6L532.6,410.6M535.1,410.8L533.8,396.6M535.1,397.0L536.7,382.8M535.1,383.5L540.0,370.0M535.1,369.9L540.1,356.5M535.1,356.3L540.4,343.1M535.1,342.7L540.1,329.3M535.1,329.0L540.0,315.6M535.1,315.1L540.0,301.6M535.1,301.2L541.6,288.3M535.1,287.2L543.3,275.2M535.1,273.1L545.0,262.1M535.1,259.0L547.3,250.3M535.1,245.0L548.2,237.1M535.1,230.8L548.3,223.1M535.1,216.6L548.1,209.1M535.1,202.4L548.1,195.2M535.1,188.0L548.5,181.8M535.1,173.6L549.1,169.3M535.1,159.1L548.7,154.1M535.1,144.5L547.6,137.3M535.1,129.8L535.1,115.3M535.1,115.0L525.5,103.6M535.1,99.7L523.5,89.7M535.1,84.2L522.4,75.5M535.1,68.6L521.5,60.9M535.1,52.9L520.9,46.3M535.1,37.0L520.7,31.3M548.6,466.0L541.7,453.9M548.6,452.2L542.8,439.6M548.6,424.6L542.7,411.8M548.6,410.8L543.7,397.3M548.6,397.0L549.9,382.6M548.6,383.5L553.6,369.8M548.6,369.9L554.2,356.6M548.6,356.3L554.1,342.9M548.6,342.7L553.8,329.2M548.6,329.0L553.7,315.5M548.6,315.1L554.2,301.8M548.6,301.2L555.9,288.6M548.6,287.2L557.3,275.4M548.6,273.1L559.1,262.6M548.6,259.0L561.0,250.3M548.6,245.0L561.8,237.2M548.6,230.8L562.0,223.3M548.6,216.6L561.8,209.2M548.6,202.4L561.6,195.0M548.6,188.0L561.5,180.6M548.6,173.6L561.9,167.1M548.6,159.1L561.3,151.8M548.6,144.5L557.9,133.4M548.6,129.8L546.1,115.5M548.6,115.0L539.5,103.3M548.6,99.7L538.0,89.0M548.6,84.2L536.6,75.6M548.6,68.6L535.3,60.9M548.6,52.9L534.6,46.3M548.6,37.0L534.3,31.2M562.2,466.0L552.6,455.7M562.2,452.2L553.2,441.4M562.2,438.4L554.2,426.9M562.2,424.6L554.1,413.0M562.2,410.8L555.0,398.4M562.2,397.0L566.7,383.2M562.2,383.5L567.7,370.0M562.2,369.9L567.7,356.4M562.2,356.3L567.7,342.8M562.2,342.7L567.2,329.0M562.2,329.0L567.3,315.5M562.2,315.1L567.6,301.7M562.2,301.2L569.4,288.5M562.2,287.2L571.0,275.5M562.2,273.1L572.7,262.6M562.2,259.0L575.2,250.9M562.2,245.0L575.4,237.1M562.2,230.8L575.6,223.1M562.2,216.6L575.3,209.0M562.2,202.4L575.0,194.8M562.2,188.0L574.9,180.3M562.2,173.6L574.6,165.6M562.2,159.1L573.1,149.4M562.2,144.5L566.0,130.5M562.2,129.8L554.9,117.2M562.2,115.0L553.7,102.8M562.2,99.7L551.8,88.8M562.2,84.2L550.0,75.6M562.2,68.6L549.0,60.9M562.2,52.9L548.2,46.3M562.2,37.0L547.9,31.2M575.8,466.0L564.4,457.6M575.8,452.2L563.5,445.1M575.8,438.4L566.7,427.5M575.8,424.6L567.6,412.9M575.8,410.8L568.6,398.3M575.8,397.0L578.3,382.7M575.8,383.5L580.8,369.8M575.8,369.9L581.1,356.3M575.8,356.3L581.3,342.8M575.8,342.7L581.0,329.1M575.8,329.0L581.2,315.5M575.8,315.1L581.8,301.9M575.8,301.2L583.1,288.5M575.8,287.2L584.6,275.4M575.8,273.1L586.4,262.5M575.8,259.0L587.9,249.7M575.8,245.0L588.6,236.4M575.8,230.8L588.8,222.5M575.8,216.6L588.5,208.4M575.8,202.4L588.3,194.2M575.8,188.0L588.2,179.7M575.8,173.6L587.9,165.1M575.8,159.1L586.2,148.8M575.8,144.5L577.1,130.0M575.8,129.8L566.4,118.6M575.8,115.0L567.2,102.7M575.8,99.7L565.9,87.9M575.8,84.2L563.9,74.5M575.8,68.6L562.7,60.5M575.8,52.9L561.8,46.4M575.8,37.0L561.6,31.0" stroke="#000080" stroke-width="0.9" fill="none" shape-rendering="crispEdges"/>
<path d="M148.1,402.6L149.1,398.1L153.2,400.2M150.4,387.2L152.5,383.1L155.9,386.2M154.0,372.6L157.4,369.5L159.6,373.6M155.9,359.1L159.8,356.6L161.2,361.0M156.8,345.7L160.9,343.6L161.9,348.1M160.4,417.9L160.6,413.3L165.0,414.7M160.3,404.0L160.5,399.4L164.9,400.7M160.9,389.3L161.5,384.8L165.8,386.5M163.9,373.6L166.1,369.5L169.5,372.6M174.1,333.5L178.7,333.1L178.0,337.7M176.1,321.3L180.7,322.0L179.0,326.3M176.8,308.1L181.3,309.2L179.2,313.3M176.6,294.0L181.1,295.0L179.1,299.1M173.4,418.6L173.2,414.0L177.7,415.0M185.0,359.6L189.3,357.9L189.9,362.5M187.7,347.1L192.3,346.7L191.6,351.2M189.7,335.0L194.3,335.6L192.6,339.9M190.5,322.0L195.0,323.0L192.9,327.1M190.6,308.0L195.1,309.1L193.0,313.2M190.5,294.1L195.0,295.2L192.9,299.3M187.0,432.5L186.9,427.9L191.4,428.9M201.5,360.8L206.1,360.5L205.3,365.0M202.5,347.8L207.1,347.9L205.8,352.3M203.1,334.7L207.7,335.2L206.1,339.5M204.1,321.9L208.6,323.0L206.5,327.1M204.3,308.1L208.8,309.2L206.7,313.2M204.1,294.1L208.6,295.1L206.5,299.2M210.9,372.8L215.0,370.6L216.1,375.1M214.7,360.5L219.2,359.9L218.7,364.5M215.8,347.6L220.4,347.6L219.3,352.0M217.2,335.1L221.7,335.8L219.9,340.0M217.7,322.0L222.1,323.0L220.0,327.1M217.4,307.8L221.9,308.7L220.0,312.8M214.7,459.2L215.0,454.6L219.4,456.0M215.7,444.3L216.6,439.8L220.8,441.8M219.1,414.6L221.6,410.7L224.8,414.1M219.7,400.5L222.4,396.8L225.4,400.4M220.9,386.4L224.1,383.0L226.6,386.9M222.7,372.7L226.4,369.9L228.2,374.1M225.6,359.4L229.9,357.7L230.5,362.2M226.7,346.1L231.1,344.8L231.3,349.4M230.6,334.9L235.1,335.6L233.4,339.8M229.6,320.5L234.2,320.6L233.0,325.0M228.4,458.9L228.7,454.4L233.1,455.8M229.5,444.0L230.5,439.5L234.6,441.6M231.0,429.1L232.8,424.9L236.5,427.6M232.7,414.5L235.2,410.6L238.3,414.0M233.6,400.4L236.4,396.8L239.3,400.4M233.6,386.5L236.4,382.9L239.3,386.5M233.6,373.0L236.4,369.4L239.3,373.0M233.6,359.3L236.4,355.7L239.3,359.3M234.0,345.7L236.9,342.2L239.6,345.9M241.7,459.1L242.0,454.5L246.4,455.9M242.3,444.6L243.0,440.0L247.2,441.8M244.1,429.3L245.6,425.0L249.5,427.6M246.8,414.3L249.5,410.6L252.5,414.1M246.8,400.5L249.5,396.8L252.5,400.3M247.2,386.5L250.0,382.9L252.8,386.5M247.5,372.9L250.5,369.3L253.2,373.1M248.1,359.2L251.2,355.8L253.7,359.7M249.4,345.4L252.9,342.5L255.0,346.6M250.0,331.7L253.7,329.0L255.5,333.2M258.5,196.0L262.9,197.3L260.6,201.2M255.3,459.1L255.5,454.5L259.9,455.9M255.3,445.3L255.5,440.7L259.9,442.0M257.6,429.3L259.2,425.0L263.0,427.5M260.7,414.1L263.6,410.5L266.4,414.1M261.1,400.4L264.1,396.8L266.8,400.5M261.7,386.3L264.8,382.9L267.3,386.8M263.0,372.6L266.5,369.6L268.5,373.8M264.5,359.0L268.4,356.6L269.8,361.0M266.4,345.7L270.7,344.0L271.3,348.6M267.2,332.2L271.6,330.8L271.9,335.4M266.5,318.2L270.8,316.5L271.4,321.1M273.0,210.9L277.2,212.5L274.6,216.3M271.8,195.4L276.3,196.4L274.2,200.5M272.3,181.8L276.7,183.2L274.2,187.1M269.7,458.3L270.4,453.7L274.6,455.6M270.2,444.0L271.2,439.5L275.3,441.6M272.5,428.6L274.7,424.5L278.1,427.6M275.2,414.0L278.4,410.6L280.9,414.5M278.1,386.2L282.0,383.7L283.4,388.1M279.6,372.8L283.8,371.0L284.6,375.5M280.9,359.6L285.3,358.3L285.5,362.9M281.8,346.3L286.3,345.4L286.2,350.0M282.3,332.7L286.8,331.9L286.5,336.5M281.7,318.6L286.1,317.5L286.1,322.1M287.6,227.1L291.5,229.6L288.1,232.7M286.5,210.5L290.9,212.0L288.3,215.8M285.6,195.3L290.1,196.3L288.0,200.4M285.0,180.6L289.5,181.4L287.7,185.6M283.2,164.9L287.8,164.7L286.8,169.2M288.3,427.9L291.2,424.4L293.9,428.1M291.6,413.9L295.5,411.4L297.0,415.8M293.1,400.3L297.3,398.4L298.1,402.9M294.5,386.7L298.8,385.4L299.1,390.0M295.0,373.4L299.5,372.3L299.5,376.9M295.3,360.0L299.8,359.0L299.7,363.6M296.1,346.7L300.6,346.0L300.2,350.6M296.4,333.0L300.9,332.5L300.4,337.0M295.6,318.7L300.1,317.8L300.0,322.4M294.7,304.3L299.1,302.9L299.4,307.4M294.2,248.8L298.6,247.4L298.9,252.0M294.7,234.8L299.1,233.5L299.3,238.1M296.5,221.1L301.0,220.5L300.5,225.1M299.3,209.1L303.8,210.0L301.9,214.1M299.5,181.6L303.9,182.9L301.6,186.8M299.6,167.8L303.9,169.4L301.3,173.2M304.4,427.7L308.1,425.0L309.8,429.2M307.4,414.3L311.8,412.7L312.2,417.3M308.5,400.8L313.0,399.7L313.0,404.3M308.9,387.1L313.4,386.2L313.2,390.8M309.2,373.7L313.8,372.9L313.5,377.5M309.3,360.1L313.8,359.3L313.5,363.9M309.8,346.8L314.4,346.2L313.8,350.8M310.0,333.0L314.5,332.4L314.0,337.0M309.3,318.6L313.8,317.6L313.7,322.2M308.0,303.8L312.3,302.2L312.8,306.8M307.8,290.1L312.1,288.5L312.6,293.1M307.3,276.3L311.6,274.6L312.2,279.2M307.5,262.4L311.8,260.7L312.3,265.3M306.9,248.1L311.1,246.2L311.9,250.7M304.4,233.6L308.1,230.9L309.9,235.1M307.4,219.7L311.7,218.0L312.3,222.6M314.2,210.6L318.5,212.3L315.9,216.1M315.0,184.9L318.7,187.6L315.1,190.6M319.4,427.9L323.4,425.7L324.6,430.1M322.0,414.7L326.5,413.6L326.5,418.2M322.6,401.1L327.1,400.2L326.9,404.8M323.0,387.4L327.5,386.7L327.1,391.3M323.3,373.9L327.8,373.4L327.3,377.9M323.5,360.5L328.0,359.9L327.4,364.5M323.7,346.9L328.2,346.5L327.6,351.0M323.8,333.1L328.3,332.6L327.7,337.1M323.4,318.7L328.0,318.0L327.6,322.5M322.8,304.1L327.3,303.0L327.3,307.6M322.5,289.9L326.9,288.6L327.1,293.2M322.1,276.3L326.5,274.9L326.7,279.5M321.9,262.2L326.3,260.8L326.6,265.4M322.0,248.2L326.4,246.8L326.6,251.4M320.4,233.7L324.6,231.7L325.5,236.3M326.0,222.4L330.6,222.9L329.0,227.2M328.0,210.6L332.3,212.2L329.6,216.0M327.6,195.8L332.0,197.2L329.5,201.1M329.4,188.1L332.1,191.8L327.9,193.6M328.1,178.5L329.0,183.0L324.4,182.8M335.1,414.6L339.5,413.2L339.7,417.8M336.0,401.0L340.5,400.1L340.3,404.7M336.8,387.5L341.3,386.8L340.8,391.4M337.2,374.0L341.8,373.6L341.2,378.1M337.4,360.7L342.0,360.4L341.2,364.9M337.6,347.1L342.2,346.8L341.4,351.3M337.7,333.2L342.3,332.9L341.5,337.4M337.8,319.1L342.4,318.7L341.7,323.2M337.6,304.6L342.2,304.0L341.7,308.6M337.3,290.4L341.9,289.5L341.5,294.1M336.8,276.4L341.3,275.4L341.1,280.0M336.5,262.3L341.0,261.2L340.9,265.8M336.0,248.1L340.4,246.8L340.5,251.4M335.7,234.0L340.1,232.6L340.3,237.2M338.4,221.3L343.0,221.1L342.1,225.6M341.6,210.4L345.9,211.9L343.4,215.7M341.4,195.7L345.8,197.1L343.3,201.0M342.8,185.2L346.4,188.0L342.8,190.8M342.3,177.7L343.6,182.1L339.0,182.4M349.4,401.0L353.9,400.0L353.8,404.6M350.5,387.5L355.0,387.0L354.5,391.5M351.0,374.2L355.6,373.8L354.8,378.4M351.0,360.7L355.6,360.3L354.8,364.9M351.7,347.4L356.3,347.3L355.2,351.8M352.0,333.8L356.6,333.8L355.5,338.3M352.2,319.8L356.8,319.7L355.7,324.2M352.3,305.3L356.9,305.1L355.9,309.6M352.1,291.0L356.7,290.7L355.9,295.2M351.6,276.8L356.2,276.2L355.5,280.8M351.2,262.6L355.8,261.9L355.3,266.5M350.7,248.3L355.2,247.5L355.0,252.0M350.0,234.0L354.5,232.9L354.5,237.5M351.6,220.8L356.2,220.4L355.5,224.9M354.5,209.1L358.9,210.1L356.9,214.2M354.2,194.5L358.7,195.4L356.8,199.6M354.7,181.1L359.1,182.3L356.8,186.3M356.8,173.8L359.5,177.5L355.3,179.3M356.5,156.8L360.0,159.8L356.3,162.4M363.9,387.5L368.5,386.9L368.0,391.5M364.9,374.5L369.5,374.3L368.6,378.8M365.4,361.2L370.0,361.3L368.8,365.7M366.0,347.9L370.6,348.2L369.2,352.6M366.5,334.4L371.1,334.9L369.5,339.2M366.7,320.4L371.3,320.8L369.8,325.2M366.5,305.9L371.1,306.1L369.8,310.5M366.2,291.5L370.8,291.5L369.7,296.0M366.0,277.2L370.6,277.1L369.6,281.6M365.8,263.1L370.4,262.9L369.5,267.4M365.9,249.2L370.5,249.0L369.6,253.5M364.6,234.4L369.1,233.7L368.7,238.2M364.7,220.4L369.3,219.8L368.8,224.3M366.6,207.6L371.2,207.8L369.9,212.2M366.4,193.2L371.0,193.3L369.7,197.8M367.2,179.8L371.8,180.4L370.0,184.7M362.8,162.6L367.2,161.3L367.5,165.9M364.8,149.3L369.4,148.8L368.7,153.4M378.4,374.5L383.0,374.4L382.1,378.9M379.5,361.6L384.0,362.0L382.6,366.3M380.1,348.4L384.7,349.1L382.9,353.3M380.5,334.9L385.1,335.7L383.2,339.9M380.9,321.1L385.4,321.9L383.6,326.1M380.4,306.3L385.0,306.7L383.5,311.0M380.1,291.9L384.7,292.0L383.4,296.4M380.0,277.6L384.6,277.6L383.4,282.0M379.8,263.4L384.4,263.3L383.4,267.8M379.5,249.2L384.1,249.0L383.1,253.5M379.0,234.8L383.6,234.5L382.8,239.0M378.9,220.8L383.5,220.4L382.8,225.0M379.4,206.9L384.0,206.8L383.0,211.3M379.3,192.7L383.9,192.5L383.0,197.0M378.3,177.9L382.8,177.3L382.3,181.9M375.8,162.4L380.1,160.9L380.6,165.4M374.8,148.1L379.1,146.2L379.9,150.7M391.6,374.4L396.2,374.0L395.4,378.6M393.2,361.9L397.7,362.4L396.2,366.7M393.5,348.5L398.1,349.2L396.3,353.4M394.1,335.1L398.6,336.0L396.7,340.2M394.3,321.0L398.8,321.8L397.0,326.0M393.8,306.0L398.4,306.3L397.0,310.7M393.8,292.0L398.4,292.2L397.1,296.6M393.8,277.7L398.3,277.9L397.1,282.3M393.5,263.5L398.1,263.5L397.0,267.9M393.3,249.2L397.9,249.1L396.9,253.6M393.1,235.0L397.7,234.9L396.7,239.4M392.9,221.0L397.5,220.8L396.6,225.3M392.9,206.9L397.5,206.8L396.6,211.3M392.6,192.5L397.2,192.2L396.4,196.8M391.7,177.7L396.2,177.0L395.8,181.6M390.0,162.6L394.4,161.3L394.6,165.9M388.5,148.0L392.7,146.1L393.5,150.6M387.6,133.7L391.7,131.7L392.8,136.1M407.5,335.1L412.1,335.9L410.2,340.1M407.7,320.9L412.2,321.5L410.5,325.8M407.7,306.5L412.3,307.0L410.7,311.3M407.6,292.2L412.2,292.5L410.8,296.9M407.5,277.8L412.1,278.0L410.8,282.4M407.1,263.5L411.7,263.5L410.6,267.9M407.0,249.3L411.6,249.2L410.5,253.7M406.9,235.2L411.5,235.1L410.4,239.6M406.7,221.2L411.3,221.1L410.3,225.6M406.6,207.0L411.2,206.9L410.2,211.4M406.4,192.6L411.0,192.5L410.1,197.0M406.0,178.2L410.6,177.9L409.8,182.4M404.3,163.0L408.7,161.9L408.7,166.5M402.0,148.1L406.2,146.2L407.0,150.7M401.0,133.8L405.1,131.6L406.2,136.1M409.4,456.2L412.0,452.4L415.0,455.8M411.0,414.4L414.2,411.0L416.7,414.9M412.0,400.4L415.5,397.4L417.6,401.5M416.2,373.4L420.5,371.9L420.9,376.5M417.8,360.4L422.4,359.7L422.0,364.3M418.8,347.2L423.4,346.9L422.6,351.5M420.0,319.9L424.6,319.9L423.4,324.4M421.2,306.6L425.8,307.1L424.2,311.4M421.1,292.2L425.7,292.6L424.2,296.9M421.0,277.9L425.6,278.1L424.3,282.6M420.8,263.5L425.4,263.6L424.2,268.0M420.6,249.2L425.2,249.2L424.1,253.7M420.5,235.2L425.1,235.2L424.1,239.6M420.5,221.3L425.1,221.3L424.0,225.7M420.3,207.1L424.9,207.0L423.9,211.5M420.2,192.7L424.8,192.6L423.7,197.1M419.7,178.3L424.3,178.1L423.5,182.6M418.9,163.6L423.5,163.0L423.0,167.6M416.9,148.4L421.3,147.1L421.6,151.7M414.8,133.7L418.9,131.6L420.0,136.1M414.0,119.0L418.0,116.7L419.3,121.1M422.2,456.5L424.5,452.5L427.8,455.7M423.6,442.2L426.5,438.6L429.3,442.2M423.6,428.4L426.5,424.8L429.3,428.4M423.8,414.5L426.7,411.0L429.5,414.6M423.6,400.7L426.5,397.1L429.3,400.7M426.0,386.5L429.5,383.6L431.5,387.8M428.4,373.0L432.5,371.0L433.5,375.5M430.4,359.9L434.8,358.7L434.9,363.3M431.0,346.5L435.5,345.5L435.3,350.1M431.3,332.9L435.8,332.0L435.6,336.6M433.1,305.4L437.7,305.1L436.9,309.6M434.0,291.8L438.6,291.8L437.5,296.2M434.5,277.9L439.1,278.0L437.8,282.4M434.1,263.3L438.7,263.3L437.6,267.8M433.8,249.1L438.4,248.9L437.4,253.4M433.6,235.2L438.2,235.0L437.3,239.5M433.9,221.4L438.5,221.4L437.4,225.9M433.7,207.1L438.3,207.0L437.3,211.5M433.7,192.8L438.3,192.7L437.3,197.2M433.5,178.4L438.1,178.2L437.1,182.7M433.4,164.1L438.0,164.0L437.0,168.5M431.5,148.7L436.0,147.8L435.8,152.4M428.4,133.6L432.5,131.5L433.6,136.0M428.3,119.1L432.4,117.0L433.5,121.5M426.8,104.1L430.5,101.5L432.2,105.8M434.5,443.4L436.2,439.1L439.9,441.8M434.8,429.4L436.7,425.1L440.3,428.0M436.9,414.6L439.6,410.9L442.5,414.4M437.2,400.6L440.1,397.0L442.9,400.6M438.1,386.6L441.3,383.2L443.8,387.1M440.3,372.8L444.0,370.1L445.7,374.4M443.7,359.7L448.1,358.4L448.3,363.0M444.3,346.3L448.7,345.1L448.7,349.7M444.4,332.6L448.8,331.4L448.8,336.0M444.9,318.9L449.4,318.0L449.2,322.6M445.9,305.2L450.5,304.6L449.9,309.1M446.7,291.3L451.3,291.0L450.5,295.5M446.9,277.3L451.5,277.1L450.7,281.6M446.7,263.1L451.3,262.7L450.5,267.2M446.4,248.7L451.0,248.1L450.4,252.7M446.4,220.8L451.0,220.4L450.3,224.9M446.7,206.9L451.3,206.7L450.5,211.2M447.3,192.9L451.9,192.8L450.8,197.3M447.5,178.9L452.1,178.9L450.9,183.4M447.7,164.8L452.3,165.0L450.9,169.4M446.7,149.9L451.3,149.7L450.3,154.2M443.0,133.8L447.2,132.1L447.9,136.6M442.0,119.0L446.1,116.9L447.1,121.4M442.5,104.4L446.7,102.5L447.5,107.0M432.9,108.2L428.3,107.9L429.6,103.5M446.3,458.5L447.1,454.0L451.3,455.8M444.9,432.4L444.7,427.9L449.2,428.8M446.7,416.5L447.7,412.1L451.8,414.1M449.1,401.2L451.2,397.1L454.6,400.2M448.8,387.5L450.9,383.4L454.4,386.4M450.2,373.3L452.8,369.5L455.9,373.0M454.0,359.1L457.8,356.5L459.4,360.8M457.3,346.1L461.7,344.7L462.0,349.3M457.9,332.5L462.4,331.4L462.4,336.0M458.7,319.1L463.3,318.3L462.9,322.9M459.0,305.3L463.5,304.6L463.1,309.2M459.2,291.4L463.7,290.8L463.2,295.3M460.7,193.2L465.3,193.1L464.2,197.6M461.4,179.0L466.0,179.2L464.7,183.6M461.6,165.0L466.2,165.3L464.7,169.7M461.2,150.1L465.8,150.3L464.5,154.7M445.4,122.5L440.9,121.7L442.8,117.5M445.6,107.6L441.0,107.0L442.7,102.7M442.7,88.0L438.9,85.5L442.2,82.4M442.6,72.5L438.7,70.0L442.1,66.8M459.1,459.3L459.3,454.7L463.7,456.0M457.9,433.2L457.3,428.7L461.8,429.2M457.9,419.3L457.3,414.8L461.9,415.3M458.4,404.8L458.3,400.2L462.7,401.1M459.5,389.6L460.1,385.0L464.4,386.7M459.6,375.9L460.2,371.4L464.5,373.1M468.2,345.6L472.2,343.2L473.5,347.6M470.5,332.3L474.8,330.7L475.2,335.3M471.8,319.1L476.3,318.1L476.2,322.7M471.8,291.5L476.3,290.5L476.1,295.1M471.6,277.6L476.1,276.6L475.9,281.2M470.7,248.8L475.1,247.4L475.4,252.0M469.9,234.5L474.2,232.8L474.8,237.3M474.8,194.5L479.4,195.0L477.7,199.3M474.9,179.2L479.5,179.4L478.1,183.8M475.7,165.4L480.3,166.0L478.6,170.3M476.0,151.2L480.5,152.0L478.6,156.2M473.8,135.3L478.4,135.1L477.4,139.6M466.2,141.0L462.3,143.4L460.8,139.0M461.4,124.8L456.9,125.3L457.4,120.8M458.6,107.5L454.1,106.7L455.9,102.5M456.8,90.0L452.5,88.2L455.3,84.5M455.8,72.5L452.0,70.0L455.3,66.8M455.5,54.7L452.1,51.6L455.9,49.1M472.5,459.4L472.6,454.8L477.1,456.1M471.2,433.6L470.4,429.1L475.0,429.4M471.2,419.8L470.4,415.2L475.0,415.6M471.8,405.1L471.5,400.5L476.0,401.3M472.6,390.2L472.8,385.6L477.2,386.9M473.7,375.5L474.7,371.0L478.8,373.0M476.5,360.2L478.8,356.2L482.1,359.4M482.6,332.1L486.7,330.0L487.7,334.5M484.4,305.2L488.8,303.9L489.0,308.5M484.6,291.3L489.0,290.1L489.1,294.7M484.7,277.4L489.1,276.3L489.2,280.9M484.0,248.6L488.3,247.1L488.7,251.7M482.6,234.3L486.7,232.2L487.8,236.7M481.7,220.1L485.6,217.6L487.0,222.0M482.6,206.0L486.7,203.9L487.7,208.4M491.1,198.6L495.0,201.1L491.6,204.3M490.4,181.5L494.7,182.9L492.3,186.8M489.9,166.2L494.4,167.3L492.3,171.4M489.0,150.8L493.6,151.4L491.9,155.7M487.9,135.6L492.5,135.7L491.3,140.1M483.8,118.8L488.1,117.1L488.8,121.7M473.6,124.0L469.0,123.9L470.1,119.5M472.0,107.5L467.5,106.7L469.4,102.5M468.9,87.1L465.3,84.2L468.9,81.4M468.5,68.9L465.5,65.4L469.7,63.4M468.7,52.6L465.9,48.9L470.2,47.1M468.7,37.1L465.8,33.5L470.0,31.6M486.5,458.8L486.9,454.3L491.3,455.8M485.2,432.8L484.8,428.3L489.4,429.0M485.0,419.3L484.5,414.7L489.0,415.3M485.5,404.7L485.4,400.1L489.9,401.1M486.6,389.6L487.2,385.0L491.5,386.7M488.2,374.8L489.6,370.4L493.5,372.8M495.2,332.1L499.1,329.6L500.5,334.0M497.0,304.9L501.3,303.2L501.9,307.8M498.1,277.2L502.6,275.9L502.7,280.5M498.8,263.1L503.2,262.1L503.2,266.7M498.6,248.5L503.1,247.3L503.2,251.9M497.5,233.8L501.8,232.1L502.4,236.6M497.5,219.8L501.8,218.1L502.4,222.6M497.3,205.8L501.6,204.1L502.2,208.7M502.4,194.5L507.0,195.1L505.2,199.4M503.7,181.2L508.1,182.5L505.8,186.5M503.9,167.0L508.3,168.4L505.9,172.3M503.3,151.8L507.8,152.9L505.7,157.0M483.5,148.3L479.7,145.8L483.1,142.7M499.1,140.2L496.9,144.3L493.5,141.2M485.3,122.1L480.8,121.0L483.0,117.0M482.5,101.5L479.2,98.3L483.0,95.8M482.3,81.7L480.2,77.6L484.7,76.6M482.0,67.6L479.4,63.8L483.7,62.2M482.2,51.8L479.7,47.9L484.0,46.4M482.3,36.3L479.6,32.6L483.9,30.9M501.1,457.8L502.2,453.3L506.3,455.4M501.1,444.0L502.1,439.5L506.2,441.6M499.6,431.5L499.9,426.9L504.3,428.3M500.5,416.8L501.2,412.3L505.4,414.1M500.3,403.2L500.9,398.7L505.2,400.4M501.7,388.2L503.1,383.8L507.0,386.3M509.3,318.4L513.3,316.2L514.5,320.6M509.8,304.6L513.9,302.6L514.9,307.1M511.6,276.9L516.0,275.6L516.3,280.2M513.6,263.5L518.1,262.9L517.6,267.5M514.2,249.3L518.8,248.9L518.1,253.5M514.4,235.0L519.0,234.6L518.3,239.2M515.3,221.5L519.9,221.5L518.7,226.0M514.3,207.1L518.9,206.7L518.1,211.3M515.5,193.8L520.0,194.1L518.7,198.5M516.3,179.9L520.8,180.6L519.1,184.8M518.1,168.3L522.3,170.3L519.4,173.9M518.0,153.9L522.2,155.8L519.3,159.4M518.7,141.1L522.5,143.8L519.0,146.8M517.0,123.1L521.5,124.4L519.2,128.3M498.0,109.1L497.4,104.5L502.0,105.1M496.7,95.3L495.3,90.9L499.9,90.6M496.2,80.5L494.6,76.2L499.1,75.6M496.1,65.1L494.4,60.8L498.9,60.2M495.8,51.0L493.5,47.0L497.9,45.8M495.8,35.8L493.3,32.0L497.7,30.5M515.8,456.9L517.4,452.6L521.2,455.3M517.8,442.1L520.3,438.2L523.4,441.6M517.8,428.2L520.3,424.4L523.4,427.7M517.8,414.3L520.3,410.5L523.4,413.8M519.6,400.1L522.7,396.7L525.2,400.6M518.7,386.5L521.5,382.9L524.3,386.5M519.9,372.7L523.1,369.4L525.5,373.3M522.5,318.2L526.5,315.8L527.8,320.2M522.8,304.3L526.8,302.0L528.1,306.4M523.4,290.4L527.5,288.3L528.5,292.8M525.3,276.7L529.7,275.3L529.9,279.9M527.3,263.4L531.9,262.8L531.3,267.4M529.6,250.6L534.2,251.1L532.6,255.4M529.7,236.2L534.2,236.6L532.8,241.0M529.8,222.1L534.3,222.5L532.8,226.9M529.5,208.0L534.1,208.4L532.6,212.7M529.7,194.2L534.2,194.8L532.6,199.0M530.5,180.8L535.0,181.8L532.8,185.9M531.4,168.0L535.7,169.7L532.9,173.4M531.6,154.1L535.7,156.1L532.8,159.6M530.7,138.1L535.1,139.6L532.7,143.5M525.4,119.3L529.8,117.9L530.1,122.5M512.1,108.2L512.0,103.6L516.5,104.6M510.7,94.3L509.8,89.8L514.4,90.0M509.9,80.3L508.3,76.0L512.9,75.5M509.6,65.1L507.9,60.9L512.4,60.2M509.4,50.5L507.3,46.4L511.7,45.3M509.4,35.5L507.0,31.5L511.4,30.2M529.0,457.2L530.4,452.8L534.3,455.3M530.5,442.5L532.6,438.4L536.1,441.5M530.8,428.5L533.1,424.5L536.4,427.7M530.4,414.7L532.6,410.6L536.0,413.7M531.3,400.4L533.8,396.6L537.0,399.9M533.4,386.1L536.7,382.8L539.1,386.7M536.1,372.4L540.0,370.0L541.4,374.3M536.2,358.9L540.1,356.5L541.5,360.9M536.4,345.4L540.4,343.1L541.7,347.5M536.2,331.7L540.1,329.3L541.5,333.7M536.1,318.0L540.0,315.6L541.4,319.9M536.1,304.1L540.0,301.6L541.4,306.0M537.4,290.3L541.6,288.3L542.5,292.8M538.9,276.6L543.3,275.2L543.6,279.8M540.4,262.9L545.0,262.1L544.6,266.7M542.7,250.1L547.3,250.3L546.0,254.7M543.6,236.5L548.2,237.1L546.5,241.4M543.8,222.5L548.3,223.1L546.6,227.4M543.6,208.5L548.1,209.1L546.4,213.4M543.5,194.5L548.1,195.2L546.3,199.4M544.1,180.8L548.5,181.8L546.4,185.9M544.8,167.7L549.1,169.3L546.5,173.1M544.4,152.7L548.7,154.1L546.3,158.0M543.0,136.7L547.6,137.3L545.9,141.6M532.2,118.9L535.1,115.3L537.9,118.9M525.7,108.2L525.5,103.6L530.0,104.6M524.4,94.2L523.5,89.7L528.1,89.9M523.8,79.9L522.4,75.5L527.0,75.2M523.2,65.1L521.5,60.9L526.0,60.2M523.0,50.4L520.9,46.3L525.4,45.2M523.0,35.3L520.7,31.3L525.1,30.0M541.0,458.4L541.7,453.9L545.9,455.6M541.7,444.0L542.8,439.6L546.8,441.7M541.7,416.3L542.7,411.8L546.8,413.9M542.3,401.7L543.7,397.3L547.6,399.8M546.8,386.0L549.9,382.6L552.4,386.5M549.7,372.3L553.6,369.8L555.0,374.2M550.2,358.8L554.2,356.6L555.4,361.0M550.1,345.2L554.1,342.9L555.4,347.4M549.9,331.5L553.8,329.2L555.2,333.6M549.7,317.9L553.7,315.5L555.1,319.9M550.2,304.1L554.2,301.8L555.4,306.2M551.6,290.3L555.9,288.6L556.5,293.2M552.9,276.6L557.3,275.4L557.4,280.0M554.5,263.2L559.1,262.6L558.6,267.2M556.4,250.1L561.0,250.3L559.7,254.7M557.3,236.6L561.8,237.2L560.2,241.5M557.5,222.6L562.0,223.3L560.3,227.6M557.3,208.5L561.8,209.2L560.0,213.5M557.0,194.4L561.6,195.0L559.8,199.3M557.0,179.9L561.5,180.6L559.8,184.8M557.4,166.2L561.9,167.1L559.9,171.3M556.7,151.2L561.3,151.8L559.5,156.1M553.4,134.4L557.9,133.4L557.8,138.0M544.0,119.5L546.1,115.5L549.5,118.6M539.5,107.9L539.5,103.3L543.9,104.4M538.6,93.6L538.0,89.0L542.6,89.6M537.9,80.0L536.6,75.6L541.2,75.4M537.0,65.2L535.3,60.9L539.8,60.3M536.7,50.4L534.6,46.3L539.1,45.3M536.6,35.2L534.3,31.2L538.7,30.0M553.0,460.3L552.6,455.7L557.1,456.4M553.3,446.0L553.2,441.4L557.7,442.4M553.9,431.5L554.2,426.9L558.6,428.2M553.8,417.6L554.1,413.0L558.5,414.3M554.4,402.9L555.0,398.4L559.3,400.1M562.9,385.8L566.7,383.2L568.3,387.5M563.7,372.3L567.7,370.0L569.0,374.4M563.7,358.7L567.7,356.4L568.9,360.8M563.7,345.1L567.7,342.8L568.9,347.2M563.3,331.5L567.2,329.0L568.6,333.4M563.4,317.8L567.3,315.5L568.7,319.8M563.7,304.0L567.6,301.7L568.9,306.1M565.1,290.3L569.4,288.5L570.1,293.1M566.6,276.7L571.0,275.5L571.1,280.1M568.2,263.2L572.7,262.6L572.2,267.2M570.6,250.4L575.2,250.9L573.6,255.2M570.9,236.5L575.4,237.1L573.8,241.4M571.0,222.5L575.6,223.1L573.8,227.4M570.7,208.4L575.3,209.0L573.6,213.3M570.4,194.2L575.0,194.8L573.3,199.0M570.3,179.8L574.9,180.3L573.3,184.6M570.0,165.2L574.6,165.6L573.1,169.9M568.5,149.7L573.1,149.4L572.3,153.9M562.3,133.3L566.0,130.5L567.8,134.8M554.3,121.8L554.9,117.2L559.2,118.9M553.4,107.4L553.7,102.8L558.1,104.1M552.3,93.4L551.8,88.8L556.4,89.5M551.3,80.0L550.0,75.6L554.6,75.4M550.7,65.2L549.0,60.9L553.5,60.3M550.3,50.4L548.2,46.3L552.7,45.3M550.2,35.1L547.9,31.2L552.4,29.9M565.6,462.0L564.4,457.6L569.0,457.5M565.2,449.4L563.5,445.1L568.0,444.5M566.8,432.1L566.7,427.5L571.2,428.5M567.4,417.5L567.6,412.9L572.0,414.3M568.0,402.9L568.6,398.3L572.9,400.1M574.9,385.8L578.3,382.7L580.5,386.8M576.9,372.2L580.8,369.8L582.2,374.2M577.1,358.7L581.1,356.3L582.4,360.7M577.3,345.1L581.3,342.8L582.5,347.2M577.1,331.4L581.0,329.1L582.4,333.5M577.2,317.8L581.2,315.5L582.5,319.9M577.7,304.0L581.8,301.9L582.9,306.3M578.8,290.2L583.1,288.5L583.7,293.1M580.2,276.6L584.6,275.4L584.7,280.0M581.8,263.1L586.4,262.5L585.8,267.0M583.3,249.7L587.9,249.7L586.8,254.2M584.0,236.1L588.6,236.4L587.1,240.8M584.2,222.1L588.8,222.5L587.3,226.8M583.9,208.0L588.5,208.4L587.0,212.8M583.7,193.8L588.3,194.2L586.8,198.5M583.6,179.3L588.2,179.7L586.8,184.0M583.3,164.9L587.9,165.1L586.6,169.5M581.6,149.3L586.2,148.8L585.6,153.3M573.9,133.3L577.1,130.0L579.6,133.8M566.5,123.2L566.4,118.6L570.9,119.5M567.0,107.3L567.2,102.7L571.6,104.0M566.1,92.5L565.9,87.9L570.4,88.9M565.0,79.0L563.9,74.5L568.5,74.6M564.3,64.8L562.7,60.5L567.3,60.0M563.9,50.5L561.8,46.4L566.3,45.3M563.9,35.0L561.6,31.0L566.1,29.8" stroke="#000080" stroke-width="1.1" fill="none" stroke-linejoin="bevel" shape-rendering="crispEdges"/>
<path d="M154.0,37.0 156.0,37.0 158.5,37.0 160.5,37.0 163.0,37.0 165.0,37.0 167.0,37.0 169.5,37.0 171.5,37.0 174.0,37.0 176.0,37.0 178.0,37.0 180.5,37.0 182.5,37.0 185.0,37.0 187.0,37.0 189.5,37.0 191.5,37.0 193.5,37.0 196.0,37.0 198.0,37.0 200.5,37.0 202.5,37.0 204.5,37.0 207.0,37.0 209.0,37.0 211.5,37.0 213.5,37.0 215.5,37.0 218.0,37.0 220.0,37.0 222.5,37.0 224.5,37.0 226.5,37.0 229.0,37.0 231.0,37.0 233.5,37.0 235.5,37.0 238.0,37.0 240.0,37.0 242.0,37.0 244.5,37.0 246.5,37.0 249.0,37.0 251.0,37.0 253.0,37.0 255.5,37.0 257.5,37.0 260.0,37.0 262.0,37.0 264.0,37.0 266.5,37.0 268.5,37.0 271.0,37.0 273.0,37.0 275.0,37.0 277.5,37.0 279.5,37.0 282.0,37.0 284.0,37.0 286.5,37.0 288.5,37.0 290.5,37.0 293.0,37.0 295.0,37.0 297.5,37.0 299.5,37.0 301.5,37.0 304.0,37.0 306.0,37.0 308.5,37.0 310.5,37.0 312.5,37.0 315.0,37.0 317.0,37.0 319.5,37.0 321.5,37.0 323.5,37.0 326.0,37.0 328.0,37.0 330.5,37.0 332.5,37.0 334.5,37.0 337.0,37.0 339.0,37.0 341.5,37.0 343.5,37.0 346.0,37.0 348.0,37.0 350.0,37.0 352.5,37.0 354.5,37.0 357.0,37.0 359.0,37.0 361.0,37.0 363.5,37.0 365.5,37.0 368.0,37.0 370.0,37.0 372.0,37.0 374.5,37.0 376.5,37.0 379.0,37.0 381.0,37.0 383.0,37.0 385.5,37.0 387.5,37.0 390.0,37.0 392.0,37.0 394.5,37.0 396.5,37.0 398.5,37.0 401.0,37.0 403.0,37.0 405.5,37.0 407.5,37.0 409.5,37.0 412.0,37.0 414.0,37.0 416.5,37.0 418.5,37.0 420.5,37.0 423.0,37.0 425.0,37.0 427.5,37.0 429.5,37.0 431.5,37.0 434.0,37.0 436.0,37.0 438.5,37.0 440.5,37.0 443.0,37.0 445.0,37.0 447.0,37.0 449.5,37.0 451.5,37.0 454.0,37.0 456.0,37.0 458.0,37.0 460.5,37.0 462.5,37.0 465.0,37.0 467.0,37.0 467.0,39.5 465.5,40.0 462.5,43.0 461.5,45.0 462.0,46.5 460.0,48.5 460.5,52.0 462.0,55.0 463.0,58.5 462.5,62.0 459.5,62.5 458.0,64.5 455.0,66.5 454.0,68.0 452.0,69.0 450.0,69.5 447.0,71.0 447.5,73.5 446.5,75.5 445.0,77.5 441.5,80.5 441.0,82.5 440.5,84.5 438.5,86.5 437.0,87.5 434.0,88.0 434.0,90.5 434.5,93.0 435.0,96.5 435.0,100.0 432.5,102.5 431.0,104.5 428.5,107.0 426.5,109.5 426.0,111.5 424.5,114.0 423.5,116.5 420.0,118.0 418.5,119.5 415.5,120.0 412.5,123.0 412.0,124.5 411.0,127.5 408.0,128.5 405.5,129.5 402.5,132.5 400.5,134.0 397.5,136.0 394.5,137.5 393.0,139.5 392.5,143.0 388.5,143.0 386.0,143.5 383.5,145.0 381.0,145.5 379.5,147.0 375.5,147.5 372.0,148.0 371.0,148.0 368.0,150.0 364.5,150.5 363.5,151.5 360.0,151.5 356.5,152.5 354.5,151.0 353.5,150.0 351.5,148.0 351.0,146.0 350.0,150.0 347.5,153.0 346.0,155.0 343.0,157.5 340.5,159.5 337.5,161.0 336.5,161.5 332.5,162.0 330.5,163.0 327.5,164.0 324.5,164.0 322.0,164.5 319.5,166.5 318.0,165.5 315.0,167.0 312.5,169.0 309.5,170.0 308.0,172.0 307.0,174.5 308.0,177.5 311.5,179.5 313.0,182.0 313.0,185.5 311.0,185.0 308.5,184.5 305.0,184.0 304.5,182.0 303.5,180.5 302.0,179.0 300.5,175.5 302.5,171.0 304.5,167.0 301.5,166.5 300.0,163.5 297.5,162.5 295.5,165.5 293.0,166.0 289.5,163.5 285.5,163.5 284.0,161.0 282.5,163.5 279.5,165.5 277.5,165.5 274.0,167.0 271.5,168.0 269.0,170.0 268.0,172.5 266.0,174.0 264.5,174.5 260.5,173.5 259.0,174.0 258.0,178.0 257.5,181.0 256.0,183.5 253.5,185.0 252.0,188.0 252.0,189.5 250.0,191.5 248.5,193.5 247.5,196.0 246.0,198.5 246.0,200.0 244.5,203.0 246.0,203.5 247.5,205.0 250.5,207.0 251.5,210.0 253.5,211.0 255.0,214.5 255.5,216.0 256.0,218.5 258.0,220.5 259.5,222.0 260.0,224.0 263.0,226.0 264.0,228.5 266.0,231.0 267.0,232.0 269.5,235.0 271.0,237.5 273.0,239.5 274.5,240.0 276.0,241.5 277.5,244.0 279.0,245.0 280.0,246.5 281.0,249.5 283.5,250.5 285.0,253.0 286.0,255.0 288.0,256.0 288.0,258.5 291.0,259.5 291.5,263.0 292.5,264.5 292.5,268.5 293.0,269.5 294.0,272.5 295.0,274.5 295.5,277.0 295.5,279.5 295.0,282.0 295.0,284.5 296.0,287.5 294.0,291.0 295.0,293.0 293.5,295.0 293.0,297.0 292.5,300.0 292.5,302.0 293.5,305.0 292.0,308.0 292.0,310.0 290.0,311.5 288.5,312.5 286.0,314.0 285.0,314.0 281.5,315.0 281.0,317.0 277.0,318.5 274.5,319.0 272.5,320.5 269.5,320.5 267.5,321.0 264.5,322.5 263.0,325.0 260.5,326.5 259.0,328.5 258.0,330.5 256.0,331.5 255.5,333.0 253.5,335.0 250.5,337.0 248.0,337.5 246.0,339.5 244.5,340.5 242.0,341.5 240.5,343.0 239.0,344.5 236.0,346.5 234.5,343.5 235.0,340.0 235.0,338.0 235.0,335.0 236.0,333.0 237.5,329.5 236.0,328.0 233.5,326.0 231.5,325.0 228.0,326.0 223.5,325.0 222.0,322.5 220.0,321.0 218.0,320.0 216.0,318.0 215.5,316.5 213.0,314.0 211.0,311.5 211.0,309.0 210.0,306.0 209.0,304.0 208.5,302.0 207.0,300.5 205.0,298.5 203.0,298.5 200.5,299.0 198.5,297.0 197.0,295.0 196.0,293.5 193.0,291.5 190.5,291.5 187.5,290.5 184.5,291.0 182.5,292.5 180.5,290.0 181.0,288.0 182.0,286.0 181.5,282.5 183.0,280.5 180.5,280.0 178.5,280.5 175.5,280.0 173.0,281.0 171.5,280.5 169.0,280.5 167.5,283.0 169.0,285.5 169.5,288.5 168.5,290.5 169.5,292.5 168.0,296.0 168.5,299.0 167.5,301.0 166.0,302.5 165.5,305.0 164.0,308.0 163.0,309.5 161.5,311.0 160.5,314.0 160.5,316.0 159.0,318.5 159.0,321.0 159.0,324.5 157.5,328.0 158.0,330.0 157.5,333.0 158.0,335.5 160.0,339.5 162.0,339.0 164.5,339.5 167.5,341.0 168.0,343.0 169.5,346.0 170.5,349.5 171.0,353.0 172.0,355.0 173.0,358.0 174.5,360.5 175.0,364.5 175.5,365.5 177.0,368.5 179.0,369.5 182.0,371.5 183.0,371.5 186.0,372.5 190.5,373.5 191.5,374.5 193.5,376.5 196.0,378.5 197.0,380.0 198.5,381.5 201.5,382.5 203.5,385.0 204.5,385.5 206.5,387.5 208.5,390.0 211.0,391.5 212.5,394.0 214.5,397.5 213.5,400.5 214.5,402.0 216.0,406.0 215.0,408.5 216.5,412.5 217.0,414.5 218.0,417.0 217.0,419.0 216.5,423.0 215.5,424.5 218.0,427.0 218.5,428.5 220.0,431.0 221.0,432.5 222.5,434.5 222.5,437.0 224.0,438.5 223.5,441.5 225.5,443.0 222.5,446.0 218.5,446.5 215.0,444.5 212.5,442.5 210.5,441.0 208.0,439.0 206.0,438.0 204.0,438.0 201.0,436.0 199.0,434.0 195.5,434.0 193.5,432.5 191.5,431.0 191.0,429.5 188.5,427.5 187.5,426.5 186.0,422.5 187.0,419.5 184.5,418.0 182.0,414.5 180.5,410.5 178.5,409.0 179.0,406.5 177.5,403.5 177.0,401.5 175.0,398.0 174.5,394.5 174.0,392.5 172.5,389.0 173.5,385.5 172.5,384.0 172.0,381.0 171.5,379.0 171.0,375.0 169.0,374.5 168.5,371.0 166.0,369.5 165.5,369.0 163.0,366.0 161.5,364.5 161.5,362.0 159.0,360.0 159.0,358.0 155.0,355.0 154.0,355.0 154.0,353.0 154.0,350.5 154.0,348.5 154.0,346.0 154.0,344.0 154.0,342.0 154.0,339.5 154.0,337.5 154.0,335.0 154.0,333.0 154.0,330.5 154.0,328.5 154.0,326.5 154.0,324.0 154.0,322.0 154.0,319.5 154.0,317.5 154.0,315.0 154.0,313.0 154.0,311.0 154.0,308.5 154.0,306.5 154.0,304.0 154.0,302.0 154.0,300.0 154.0,297.5 154.0,295.5 154.0,293.0 154.0,291.0 154.0,289.0 154.0,286.5 154.0,284.5 154.0,282.0 154.0,280.0 154.0,277.5 154.0,275.5 154.0,273.5 154.0,271.0 154.0,269.0 154.0,266.5 154.0,264.5 154.0,262.0 154.0,260.0 154.0,258.0 154.0,255.5 154.0,253.5 154.0,251.0 154.0,249.0 154.0,247.0 154.0,244.5 154.0,242.5 154.0,240.0 154.0,238.0 154.0,236.0 154.0,233.5 154.0,231.5 154.0,229.0 154.0,227.0 154.0,224.5 154.0,222.5 154.0,220.5 154.0,218.0 154.0,216.0 154.0,213.5 154.0,211.5 154.0,209.0 154.0,207.0 154.0,205.0 154.0,202.5 154.0,200.5 154.0,198.0 154.0,196.0 154.0,194.0 154.0,191.5 154.0,189.5 154.0,187.0 154.0,185.0 154.0,183.0 154.0,180.5 154.0,178.5 154.0,176.0 154.0,174.0 154.0,171.5 154.0,169.5 154.0,167.5 154.0,165.0 154.0,163.0 154.0,160.5 154.0,158.5 154.0,156.0 154.0,154.0 154.0,152.0 154.0,149.5 154.0,147.5 154.0,145.0 154.0,143.0 154.0,141.0 154.0,138.5 154.0,136.5 154.0,134.0 154.0,132.0 154.0,130.0 154.0,127.5 154.0,125.5 154.0,123.0 154.0,121.0 154.0,118.5 154.0,116.5 154.0,114.5 154.0,112.0 154.0,110.0 154.0,107.5 154.0,105.5 154.0,103.0 154.0,101.0 154.0,99.0 154.0,96.5 154.0,94.5 154.0,92.0 154.0,90.0 154.0,88.0 154.0,85.5 154.0,83.5 154.0,81.0 154.0,79.0 154.0,77.0 154.0,74.5 154.0,72.5 154.0,70.0 154.0,68.0 154.0,65.5 154.0,63.5 154.0,61.5 154.0,59.0 154.0,57.0 154.0,54.5 154.0,52.5 154.0,50.0 154.0,48.0 154.0,46.0 154.0,43.5 154.0,41.5 154.0,39.0ZM292.5,194.5 295.0,191.5 296.5,189.5 300.0,188.5 303.0,188.0 305.5,188.5 309.0,187.5 310.5,187.5 313.0,187.0 315.0,188.5 317.5,190.0 316.5,193.0 314.5,196.5 313.5,200.0 313.0,201.5 312.0,204.5 309.5,206.0 308.5,207.0 306.5,209.5 304.5,210.5 300.5,212.5 297.0,213.5 295.5,212.0 292.0,210.5 288.5,209.5 288.0,207.5 287.0,205.0 286.0,202.5 287.0,200.0 289.0,196.5 291.5,194.5ZM462.5,110.5 464.5,114.5 465.5,116.0 465.5,119.5 465.5,121.5 465.0,125.0 463.5,128.5 463.0,131.0 462.0,133.0 461.0,134.5 461.0,137.5 459.5,140.5 457.5,142.0 456.5,144.5 456.0,147.5 454.0,150.0 453.0,152.0 453.0,156.0 451.5,159.0 450.0,160.0 449.5,156.0 448.0,154.5 447.0,152.0 446.0,150.0 445.0,148.5 443.0,146.0 444.0,143.5 443.0,141.5 443.0,137.0 443.5,134.5 444.5,131.0 445.0,128.0 446.0,126.5 447.5,123.5 449.0,120.5 450.5,119.5 453.0,116.0 456.0,113.5 457.5,113.0ZM154.0,416.5 155.5,417.0 157.0,418.0 159.0,419.0 161.5,420.5 164.5,422.0 165.0,425.5 167.0,426.5 168.0,429.0 171.0,430.0 172.5,430.5 174.0,432.5 177.0,434.0 178.5,435.0 179.0,437.5 181.0,437.5 184.0,440.0 186.5,441.0 187.5,441.0 190.5,444.0 191.5,444.5 194.0,444.5 196.5,445.0 198.5,448.0 201.5,450.5 203.5,453.5 204.5,454.5 207.5,457.0 207.5,458.0 211.0,461.0 211.0,463.0 214.0,464.5 215.0,467.0 212.5,467.0 210.5,467.0 208.0,467.0 206.0,467.0 203.5,467.0 201.5,467.0 199.0,467.0 197.0,467.0 194.5,467.0 192.5,467.0 190.0,467.0 188.0,467.0 185.5,467.0 183.5,467.0 181.0,467.0 179.0,467.0 176.5,467.0 174.5,467.0 172.0,467.0 170.0,467.0 167.5,467.0 165.5,467.0 163.0,467.0 161.0,467.0 158.5,467.0 156.5,467.0 154.0,467.0 154.0,464.5 154.0,462.5 154.0,460.0 154.0,458.0 154.0,455.5 154.0,453.5 154.0,451.0 154.0,448.5 154.0,446.5 154.0,444.0 154.0,442.0 154.0,439.5 154.0,437.0 154.0,435.0 154.0,432.5 154.0,430.5 154.0,428.0 154.0,426.0 154.0,423.5 154.0,421.0 154.0,419.0ZM290.5,467.0 291.5,465.5 289.5,461.5 290.0,459.5 290.5,457.0 290.5,454.0 291.5,451.5 291.5,449.5 291.5,447.5 292.0,443.0 294.0,442.0 295.5,439.0 296.5,439.0 299.0,440.0 301.5,441.0 304.0,442.5 308.0,442.0 310.0,442.5 312.0,443.5 314.5,444.0 318.5,444.5 321.5,440.5 321.0,439.0 320.0,436.0 320.5,434.0 322.5,432.0 323.0,429.0 327.0,427.5 330.0,425.5 333.5,425.0 336.0,425.5 339.0,424.5 340.5,423.0 342.5,420.5 344.5,420.0 347.5,417.5 347.5,416.0 349.5,414.5 351.5,412.5 353.0,409.5 355.0,408.0 356.5,407.0 359.5,405.0 361.0,403.5 363.0,402.5 364.5,402.0 366.5,399.5 367.5,399.5 369.0,397.0 372.5,395.0 373.0,393.5 375.0,392.5 377.5,390.5 378.5,390.0 381.5,388.0 382.5,386.5 385.0,385.0 387.5,383.5 388.5,382.0 390.5,381.5 392.5,379.5 394.5,378.5 395.0,376.5 397.0,374.5 398.0,373.5 398.5,371.5 399.0,368.5 401.5,370.5 402.5,372.5 403.5,375.0 405.0,375.5 406.5,378.0 406.5,379.5 408.0,381.0 410.0,382.5 412.0,384.0 415.0,385.5 416.0,386.5 417.0,387.5 421.0,387.5 423.5,389.5 425.0,390.5 427.5,392.0 430.0,392.0 429.0,394.5 426.0,396.5 424.0,396.5 422.0,397.5 418.5,397.5 418.0,398.5 416.0,399.5 418.5,402.0 421.0,404.0 418.5,405.5 416.0,406.0 412.5,407.0 410.5,407.5 409.5,408.0 406.5,410.0 408.5,412.5 409.5,415.5 407.5,416.0 405.0,417.5 405.0,419.5 402.5,421.0 405.5,423.5 408.0,425.5 408.5,427.5 410.0,430.5 411.0,432.5 413.0,435.0 415.0,437.0 412.0,439.5 410.0,440.5 412.5,442.0 413.0,444.5 415.0,447.0 418.5,447.0 420.0,449.5 423.0,449.5 425.5,452.0 423.0,453.5 421.0,454.5 417.5,455.0 415.0,455.0 411.0,454.0 411.0,456.0 409.0,459.0 408.0,461.5 407.0,463.0 407.0,465.5 407.0,467.0 404.5,467.0 402.5,467.0 400.0,467.0 398.0,467.0 395.5,467.0 393.5,467.0 391.0,467.0 389.0,467.0 386.5,467.0 384.5,467.0 382.0,467.0 380.0,467.0 377.5,467.0 375.5,467.0 373.0,467.0 371.0,467.0 369.0,467.0 366.5,467.0 364.5,467.0 362.0,467.0 360.0,467.0 357.5,467.0 355.5,467.0 353.0,467.0 351.0,467.0 348.5,467.0 346.5,467.0 344.0,467.0 342.0,467.0 339.5,467.0 337.5,467.0 335.5,467.0 333.0,467.0 331.0,467.0 328.5,467.0 326.5,467.0 324.0,467.0 322.0,467.0 319.5,467.0 317.5,467.0 315.0,467.0 313.0,467.0 310.5,467.0 308.5,467.0 306.0,467.0 304.0,467.0 302.0,467.0 299.5,467.0 297.5,467.0 295.0,467.0 293.0,467.0ZM439.0,467.0 438.5,464.0 439.5,462.0 441.0,459.5 442.5,456.0 445.5,455.5 447.5,452.5 449.0,452.5 451.0,450.5 453.5,448.0 455.5,447.0 458.5,447.5 460.5,449.0 463.0,449.0 466.0,448.5 469.0,450.0 470.5,449.5 472.5,450.5 475.0,450.0 478.5,451.5 481.0,452.0 482.5,452.0 485.5,452.0 488.0,453.5 491.0,454.0 492.5,452.5 496.0,451.5 498.0,450.5 501.0,449.0 503.0,447.5 505.0,446.5 506.5,444.0 507.5,443.0 511.5,444.0 510.5,447.0 509.0,450.0 507.5,452.5 505.5,453.0 503.5,455.0 501.0,456.0 499.0,457.0 497.0,458.0 495.5,459.5 493.5,461.0 490.5,461.0 488.5,460.5 485.5,461.0 483.0,461.5 480.0,460.5 478.5,460.0 475.5,459.5 472.5,459.0 470.0,458.0 468.5,457.5 465.0,458.0 463.5,458.0 460.0,458.5 457.5,458.5 455.5,459.0 453.0,459.0 451.0,460.5 448.5,461.0 445.0,462.5 443.0,464.5 441.0,467.0ZM434.5,307.5 433.5,310.0 432.0,312.5 430.5,315.0 430.5,318.0 429.5,320.5 428.5,323.0 428.0,325.0 426.0,327.0 423.5,328.5 422.0,330.5 420.0,333.0 419.5,334.0 416.0,336.0 414.5,338.0 412.5,338.5 411.5,339.5 409.5,341.5 408.5,344.0 406.5,345.5 404.5,347.0 403.5,349.0 402.5,351.5 400.0,353.5 400.0,357.0 402.0,355.5 405.0,354.0 406.0,351.5 407.0,351.0 409.5,348.5 410.5,346.5 412.5,345.5 414.5,343.5 416.5,342.0 418.0,339.5 419.5,339.0 420.5,336.0 422.5,335.0 424.5,334.5 427.0,332.5 428.0,329.5 430.5,328.5 432.0,326.5 433.5,324.0 434.5,322.0 435.0,319.5 435.0,317.0 436.0,313.5 435.5,311.0ZM451.0,209.0 452.5,209.0 454.5,210.0 459.0,210.5 461.5,212.5 464.0,212.5 466.0,212.5 467.5,210.0 468.5,208.5 471.5,209.0 471.0,214.0 469.5,215.5 471.5,217.5 472.0,219.5 472.0,222.0 473.0,225.0 474.5,227.5 475.0,230.5 473.0,232.5 472.5,234.5 472.5,237.0 469.5,239.5 469.0,242.0 466.5,244.0 463.5,245.5 462.5,247.0 461.0,249.0 461.5,250.5 459.5,253.0 459.5,255.0 460.0,257.5 462.0,261.0 462.5,263.0 462.5,265.0 463.5,267.0 464.5,270.0 465.5,272.0 469.0,274.5 471.5,273.0 472.5,270.5 475.0,270.5 478.0,271.5 480.5,269.5 481.0,273.0 484.0,275.0 485.5,275.5 489.0,275.5 489.0,276.5 489.0,279.0 491.5,282.0 492.5,283.0 492.5,288.0 494.0,288.5 495.0,291.5 496.5,292.5 494.0,293.0 492.0,290.5 489.5,287.0 486.5,283.5 484.5,280.5 483.0,278.0 480.5,276.0 477.5,274.0 475.5,274.5 473.0,274.5 472.5,276.5 474.5,280.5 475.0,282.0 476.5,284.0 474.5,285.5 473.0,283.5 470.0,280.5 468.0,277.5 465.5,275.5 463.0,274.5 459.0,274.5 455.5,277.0 453.0,277.0 450.5,274.0 449.0,269.5 448.0,266.0 451.5,267.0 453.0,265.5 452.0,263.5 448.0,263.0 447.0,263.0 444.5,261.5 441.5,261.0 442.0,258.0 440.5,255.0 440.5,252.5 440.0,250.0 440.0,248.5 437.5,245.5 438.0,244.0 442.5,243.5 445.0,241.5 444.5,239.0 445.5,237.0 446.0,233.5 446.5,229.5 446.0,226.5 445.0,223.0 446.0,220.0 447.0,218.0 448.0,214.0 448.5,212.5 448.5,209.5ZM446.5,281.0 449.0,281.5 452.0,281.5 455.0,281.5 456.5,283.0 458.5,285.0 459.5,287.0 460.5,288.5 461.0,291.5 460.0,293.5 458.5,296.0 456.5,298.5 454.5,297.0 453.5,294.0 453.5,292.0 451.5,290.0 449.5,288.0 449.5,284.5ZM495.5,273.0 499.0,273.5 500.0,276.5 499.5,278.5 496.5,279.5 496.0,276.5ZM499.5,296.0 501.5,294.5 504.5,295.0 507.0,293.0 509.5,295.0 511.5,297.0 513.5,300.5 514.0,303.0 514.5,305.5 515.5,307.5 513.0,310.5 512.5,312.5 511.0,311.0 508.5,310.0 508.0,306.5 507.0,303.5 505.0,302.0 504.0,300.5 500.0,300.0 499.5,297.5ZM483.5,295.0 486.5,296.0 489.5,295.5 490.5,297.5 492.0,300.5 494.5,302.0 493.0,302.0 490.5,301.5 488.5,299.5 484.5,298.5ZM465.0,302.5 468.5,304.0 470.5,304.5 471.5,304.5 474.0,305.5 476.5,306.5 477.5,308.5 478.5,310.0 480.5,312.0 480.0,312.5 478.5,315.0 476.5,316.5 475.5,317.5 472.5,319.5 470.5,320.5 466.0,322.5 467.0,319.0 467.0,317.0 467.5,314.5 466.5,311.0 467.0,309.5 466.0,305.5ZM482.0,315.5 483.5,317.0 485.5,317.5 487.0,319.0 486.5,322.5 486.0,325.5 485.0,328.5 484.0,331.5 484.5,335.5 483.0,338.0 483.0,339.5 480.5,342.0 479.0,339.5 479.0,337.0 476.5,335.5 474.0,335.0 473.5,332.0 476.5,331.0 478.5,329.0 479.0,325.0 480.0,323.0 481.0,318.5ZM493.0,317.0 493.0,320.5 494.5,323.0 491.5,325.0 490.5,327.5 489.0,330.5 487.5,333.0 485.5,336.5 484.5,334.5 485.5,333.0 486.0,330.0 487.5,329.5 487.5,327.0 489.5,323.0 491.0,321.0 491.5,319.5ZM492.5,329.5 495.5,329.5 498.0,328.5 500.0,328.5 500.0,331.0 498.0,331.5 496.0,333.5 492.5,333.5ZM500.5,310.5 502.5,311.0 505.5,312.0 506.0,314.0 507.0,317.0 508.5,320.0 509.5,322.0 510.5,325.0 507.0,326.0 506.0,322.5 505.5,319.5 504.0,318.0 502.0,315.0 501.0,312.5ZM515.0,335.0 517.5,336.5 519.5,337.5 520.5,338.0 522.5,340.5 523.5,342.5 525.0,344.5 524.5,347.5 526.0,349.5 526.5,352.0 527.0,355.0 528.5,358.0 529.0,359.5 529.0,362.5 528.5,365.5 528.5,367.5 527.0,369.0 524.5,371.5 523.5,374.0 524.5,377.0 523.0,376.5 521.5,373.5 521.5,372.0 520.5,368.5 518.5,366.0 516.5,366.0 514.5,369.5 514.0,373.0 516.0,378.0 517.0,382.0 515.5,385.0 513.5,387.5 511.5,384.5 510.0,384.0 506.5,383.0 503.0,382.0 499.5,380.0 496.0,377.0 494.0,374.5 493.0,369.5 496.5,368.0 496.5,365.0 493.5,363.0 490.5,359.5 489.5,358.0 489.0,360.0 486.5,362.5 484.5,363.5 482.0,360.0 480.5,363.0 479.5,365.0 477.0,362.5 475.0,362.0 473.5,363.0 471.5,366.5 470.5,369.0 469.0,370.5 465.5,369.5 467.0,367.0 469.0,364.0 468.5,363.0 469.5,360.0 472.0,357.0 474.5,357.0 476.0,356.0 481.5,354.0 481.0,350.0 484.0,348.5 487.0,347.5 489.5,348.0 490.5,348.5 492.0,352.0 491.5,354.5 490.0,356.0 492.5,356.0 496.0,353.5 499.0,350.5 501.5,349.0 504.5,347.5 505.5,344.0 506.5,342.5 509.5,344.0 513.5,343.5 515.0,341.0 514.0,337.5ZM545.0,437.0 548.0,438.0 551.0,441.0 549.5,444.0 548.0,446.0 547.5,449.5 545.5,451.0 544.0,455.5 546.0,457.0 546.5,460.5 544.5,462.0 544.0,463.5 541.0,464.5 541.0,461.5 539.5,458.0 541.0,456.0 541.5,452.5 541.5,449.5 542.5,446.0 542.5,443.5 543.5,440.5 543.0,438.0ZM553.5,446.0 558.0,445.0 558.0,446.0 558.5,449.5 557.5,451.5 556.0,453.0 554.5,455.0 552.5,456.0 550.5,458.5 549.0,461.0 548.5,463.5 545.5,464.5 546.5,460.0 547.0,458.0 548.0,456.0 550.5,451.5 552.5,448.0ZM552.5,432.5 555.5,431.5 556.5,431.0 557.5,435.0 554.5,437.5 552.5,437.5ZM277.0,409.0 279.5,407.5 280.5,411.0 280.5,414.5 277.5,415.0 275.5,412.5ZM180.0,433.5 183.5,435.5 184.5,439.5 181.0,439.5 180.0,437.5ZM187.0,436.5 189.0,437.0 190.5,437.5 192.5,441.5 188.0,441.5 187.0,440.0ZM195.5,444.0 199.0,444.0 201.0,446.0 203.5,448.5 203.0,451.0 199.5,449.5 198.5,448.5 198.0,446.0ZM202.5,451.0 207.0,451.5 208.5,452.0 210.5,454.0 211.0,455.5 208.0,455.0 205.5,456.0 203.5,453.5ZM466.5,374.0 469.5,373.0 470.5,377.0 467.5,377.5Z" fill="#c6c3c6" stroke="#000" stroke-width="2.2" stroke-linejoin="miter" paint-order="stroke" shape-rendering="crispEdges"/>
<path d="M545.0,96.5 548.0,93.0 551.0,89.5 553.0,87.5 553.5,89.0 551.0,92.0 548.0,95.5 546.0,97.5ZM565.5,67.0 568.0,63.0 571.5,61.0 572.0,63.0 569.0,67.0 566.5,69.0Z" fill="#000" stroke="#000" stroke-width="1" shape-rendering="crispEdges"/>
<path d="M466.0,260.5h5.0v3.0h-5.0zM469.0,263.0h3.0v2.0h-3.0zM493.0,289.0h3.0v4.0h-3.0zM496.0,291.0h3.0v2.0h-3.0zM456.5,268.0h2.0v2.0h-2.0zM158.0,375.0h3.0v2.0h-3.0zM162.0,377.0h3.0v2.0h-3.0zM165.0,379.0h2.0v2.0h-2.0zM158.5,365.5h2.0v2.0h-2.0zM157.0,392.0h2.0v1.5h-2.0zM382.0,40.0h3.0v1.5h-3.0zM388.0,40.5h4.0v1.5h-4.0zM425.5,45.5h2.5v2.5h-2.5zM350.0,145.0h2.0v3.0h-2.0zM491.0,123.0h7.0v2.5h-7.0zM495.0,121.5h3.0v2.0h-3.0zM504.0,119.5h2.0v2.0h-2.0zM510.5,117.5h2.0v2.0h-2.0zM489.0,101.0h2.0v1.5h-2.0zM433.0,134.0h2.0v3.0h-2.0zM561.0,72.5h2.0v3.0h-2.0zM570.0,40.0h2.0v2.0h-2.0zM573.0,44.0h2.0v2.0h-2.0zM541.0,94.0h2.0v1.5h-2.0zM538.0,95.5h2.0v1.5h-2.0zM533.0,94.0h3.0v1.0h-3.0zM456.0,198.0h3.0v2.0h-3.0zM459.5,197.0h2.0v2.0h-2.0zM465.6,203.0h2.5v2.5h-2.5zM466.0,195.6h2.0v2.0h-2.0zM246.0,421.0h4.0v4.0h-4.0zM251.0,420.0h5.0v4.0h-5.0zM288.8,425.0h2.0v3.0h-2.0zM258.0,346.0h2.0v2.0h-2.0zM437.5,298.0h4.0v4.0h-4.0zM441.0,301.0h3.0v3.0h-3.0zM432.0,307.0h2.0v3.0h-2.0zM436.0,395.0h4.0v3.0h-4.0zM441.0,392.0h3.0v3.0h-3.0zM446.0,388.0h4.0v3.0h-4.0zM451.0,384.0h3.0v3.0h-3.0zM452.0,388.0h3.0v2.0h-3.0zM457.0,381.0h4.0v3.0h-4.0zM459.0,376.0h4.0v2.0h-4.0zM463.0,373.0h3.0v3.0h-3.0zM531.0,403.0h3.0v4.0h-3.0zM530.0,408.0h3.0v4.0h-3.0zM514.0,414.0h3.0v4.0h-3.0zM513.5,426.0h2.0v3.0h-2.0zM513.0,432.0h2.0v2.0h-2.0zM512.5,438.0h2.0v2.0h-2.0zM527.0,446.0h2.0v2.0h-2.0zM513.0,390.0h3.0v2.0h-3.0zM513.0,327.0h2.0v4.0h-2.0zM519.0,333.0h3.0v3.0h-3.0zM461.0,49.0h2.0v1.0h-2.0zM463.0,50.0h3.0v2.0h-3.0zM466.0,45.0h3.0v2.0h-3.0zM468.0,41.0h2.0v2.0h-2.0zM465.0,59.0h3.0v1.0h-3.0zM462.0,55.0h1.0v1.0h-1.0zM463.0,60.0h2.0v1.0h-2.0zM462.0,57.0h2.0v3.0h-2.0zM460.0,52.0h1.0v1.0h-1.0zM462.0,54.0h2.0v3.0h-2.0zM462.0,58.0h3.0v1.0h-3.0zM465.0,51.0h1.0v2.0h-1.0zM461.0,58.0h2.0v1.0h-2.0zM458.0,64.0h2.0v1.0h-2.0zM459.0,62.0h1.0v3.0h-1.0zM455.0,65.0h3.0v2.0h-3.0zM459.0,62.0h1.0v2.0h-1.0zM449.0,69.0h2.0v3.0h-2.0zM459.0,62.0h3.0v1.0h-3.0zM459.0,66.0h3.0v2.0h-3.0zM450.0,70.0h2.0v2.0h-2.0zM460.0,66.0h2.0v3.0h-2.0zM458.0,65.0h3.0v2.0h-3.0zM451.0,68.0h1.0v1.0h-1.0zM456.0,65.0h1.0v3.0h-1.0zM452.0,70.0h1.0v2.0h-1.0zM454.0,70.0h2.0v3.0h-2.0zM446.0,74.0h2.0v3.0h-2.0zM447.0,72.0h3.0v2.0h-3.0zM450.0,73.0h2.0v2.0h-2.0zM448.0,73.0h2.0v1.0h-2.0zM444.0,77.0h1.0v1.0h-1.0zM449.0,73.0h2.0v2.0h-2.0zM448.0,75.0h1.0v2.0h-1.0zM441.0,88.0h2.0v3.0h-2.0zM436.0,88.0h3.0v3.0h-3.0zM437.0,88.0h3.0v2.0h-3.0zM444.0,82.0h3.0v2.0h-3.0zM438.0,91.0h3.0v2.0h-3.0zM433.0,100.0h3.0v2.0h-3.0zM436.0,97.0h3.0v2.0h-3.0zM435.0,100.0h3.0v2.0h-3.0zM437.0,96.0h1.0v1.0h-1.0zM435.0,97.0h3.0v1.0h-3.0zM437.0,95.0h3.0v3.0h-3.0zM435.0,101.0h3.0v3.0h-3.0zM436.0,96.0h3.0v2.0h-3.0zM429.0,113.0h2.0v2.0h-2.0zM426.0,115.0h2.0v3.0h-2.0zM433.0,108.0h3.0v2.0h-3.0zM432.0,107.0h1.0v2.0h-1.0zM430.0,111.0h3.0v1.0h-3.0zM427.0,112.0h2.0v2.0h-2.0zM427.0,110.0h3.0v2.0h-3.0zM424.0,114.0h3.0v1.0h-3.0zM431.0,106.0h1.0v3.0h-1.0zM433.0,108.0h1.0v2.0h-1.0zM416.0,127.0h3.0v1.0h-3.0zM422.0,118.0h3.0v2.0h-3.0zM422.0,116.0h2.0v1.0h-2.0zM420.0,122.0h3.0v2.0h-3.0zM422.0,116.0h3.0v2.0h-3.0zM415.0,128.0h1.0v2.0h-1.0zM415.0,128.0h2.0v2.0h-2.0zM414.0,125.0h1.0v1.0h-1.0zM416.0,122.0h1.0v2.0h-1.0zM415.0,127.0h2.0v2.0h-2.0zM405.0,131.0h2.0v2.0h-2.0zM400.0,135.0h2.0v2.0h-2.0zM404.0,133.0h3.0v3.0h-3.0zM409.0,130.0h2.0v1.0h-2.0zM398.0,137.0h2.0v2.0h-2.0zM409.0,130.0h2.0v2.0h-2.0zM409.0,128.0h2.0v2.0h-2.0zM403.0,134.0h2.0v3.0h-2.0zM399.0,139.0h3.0v3.0h-3.0zM405.0,133.0h2.0v2.0h-2.0zM405.0,130.0h1.0v3.0h-1.0zM407.0,129.0h3.0v2.0h-3.0zM391.0,142.0h2.0v3.0h-2.0zM393.0,142.0h2.0v1.0h-2.0zM397.0,139.0h1.0v1.0h-1.0zM395.0,137.0h2.0v2.0h-2.0zM394.0,141.0h2.0v3.0h-2.0zM381.0,146.0h3.0v2.0h-3.0zM386.0,146.0h2.0v2.0h-2.0zM377.0,150.0h3.0v2.0h-3.0zM370.0,151.0h3.0v2.0h-3.0zM359.0,155.0h3.0v3.0h-3.0zM371.0,147.0h3.0v1.0h-3.0zM367.0,152.0h1.0v2.0h-1.0zM366.0,152.0h3.0v1.0h-3.0zM362.0,150.0h2.0v1.0h-2.0zM362.0,153.0h2.0v2.0h-2.0zM369.0,152.0h1.0v2.0h-1.0zM373.0,148.0h2.0v1.0h-2.0zM360.0,151.0h3.0v3.0h-3.0zM370.0,149.0h2.0v2.0h-2.0zM368.0,150.0h3.0v1.0h-3.0zM354.0,155.0h2.0v3.0h-2.0zM354.0,154.0h3.0v2.0h-3.0zM348.0,156.0h3.0v1.0h-3.0zM355.0,155.0h1.0v2.0h-1.0zM344.0,158.0h2.0v2.0h-2.0zM342.0,162.0h3.0v3.0h-3.0zM343.0,158.0h2.0v3.0h-2.0zM344.0,159.0h1.0v1.0h-1.0zM343.0,159.0h2.0v3.0h-2.0zM339.0,160.0h3.0v2.0h-3.0zM340.0,159.0h2.0v3.0h-2.0zM343.0,161.0h3.0v1.0h-3.0zM327.0,166.0h2.0v2.0h-2.0zM332.0,164.0h2.0v2.0h-2.0zM322.0,166.0h3.0v2.0h-3.0zM333.0,162.0h3.0v3.0h-3.0zM333.0,165.0h1.0v2.0h-1.0zM320.0,165.0h3.0v3.0h-3.0zM324.0,166.0h3.0v2.0h-3.0zM325.0,165.0h2.0v2.0h-2.0zM334.0,161.0h1.0v2.0h-1.0zM330.0,166.0h3.0v2.0h-3.0zM324.0,168.0h3.0v3.0h-3.0zM319.0,166.0h3.0v1.0h-3.0zM313.0,169.0h3.0v2.0h-3.0zM317.0,169.0h2.0v3.0h-2.0zM317.0,168.0h2.0v1.0h-2.0zM225.0,445.0h2.0v1.0h-2.0zM231.0,453.0h2.0v2.0h-2.0zM225.0,453.0h1.0v1.0h-1.0zM225.0,447.0h3.0v2.0h-3.0zM226.0,452.0h1.0v1.0h-1.0zM228.0,446.0h2.0v2.0h-2.0zM219.0,452.0h2.0v2.0h-2.0zM216.0,449.0h3.0v3.0h-3.0zM223.0,452.0h2.0v2.0h-2.0zM217.0,448.0h1.0v2.0h-1.0zM217.0,451.0h1.0v2.0h-1.0zM216.0,446.0h2.0v1.0h-2.0zM220.0,453.0h1.0v2.0h-1.0zM222.0,446.0h2.0v2.0h-2.0zM220.0,449.0h1.0v2.0h-1.0zM222.0,452.0h3.0v2.0h-3.0zM223.0,448.0h1.0v3.0h-1.0zM223.0,447.0h3.0v3.0h-3.0zM221.0,452.0h2.0v1.0h-2.0zM211.0,448.0h3.0v2.0h-3.0zM213.0,445.0h2.0v1.0h-2.0zM214.0,450.0h3.0v2.0h-3.0zM210.0,452.0h1.0v3.0h-1.0zM212.0,451.0h3.0v2.0h-3.0zM216.0,445.0h2.0v3.0h-2.0zM215.0,451.0h3.0v2.0h-3.0zM216.0,449.0h1.0v2.0h-1.0zM216.0,447.0h3.0v2.0h-3.0zM214.0,451.0h3.0v1.0h-3.0zM232.0,461.0h3.0v1.0h-3.0zM230.0,462.0h2.0v2.0h-2.0zM230.0,460.0h2.0v1.0h-2.0zM231.0,461.0h2.0v2.0h-2.0zM225.0,460.0h1.0v1.0h-1.0zM233.0,461.0h3.0v2.0h-3.0zM223.0,458.0h3.0v2.0h-3.0zM216.0,456.0h1.0v2.0h-1.0zM219.0,456.0h2.0v1.0h-2.0zM221.0,455.0h1.0v2.0h-1.0zM225.0,455.0h3.0v3.0h-3.0zM219.0,456.0h3.0v2.0h-3.0zM223.0,455.0h2.0v2.0h-2.0zM218.0,456.0h1.0v3.0h-1.0zM215.0,451.0h2.0v2.0h-2.0zM213.0,452.0h3.0v2.0h-3.0zM218.0,452.0h2.0v3.0h-2.0zM212.0,450.0h2.0v3.0h-2.0zM213.0,450.0h3.0v2.0h-3.0zM231.0,453.0h3.0v2.0h-3.0zM229.0,455.0h2.0v2.0h-2.0zM223.0,451.0h3.0v2.0h-3.0zM230.0,453.0h2.0v2.0h-2.0zM227.0,455.0h2.0v2.0h-2.0zM226.0,453.0h2.0v3.0h-2.0zM226.0,455.0h1.0v3.0h-1.0zM225.0,453.0h1.0v2.0h-1.0zM223.0,455.0h3.0v3.0h-3.0zM222.0,454.0h2.0v2.0h-2.0zM222.0,453.0h1.0v3.0h-1.0zM221.0,454.0h2.0v3.0h-2.0zM217.0,454.0h3.0v3.0h-3.0zM217.0,457.0h3.0v2.0h-3.0zM218.0,455.0h1.0v1.0h-1.0zM221.0,452.0h3.0v1.0h-3.0zM496.0,295.0h1.0v2.0h-1.0zM499.0,292.0h3.0v1.0h-3.0zM499.0,297.0h2.0v2.0h-2.0zM494.0,298.0h3.0v2.0h-3.0zM496.0,295.0h3.0v2.0h-3.0zM487.0,308.0h2.0v2.0h-2.0zM494.0,303.0h2.0v2.0h-2.0zM482.0,314.0h2.0v2.0h-2.0zM482.0,314.0h2.0v2.0h-2.0zM480.0,313.0h3.0v2.0h-3.0zM481.0,312.0h1.0v2.0h-1.0zM480.0,313.0h3.0v2.0h-3.0zM485.0,299.0h3.0v2.0h-3.0zM485.0,296.0h3.0v1.0h-3.0zM494.0,308.0h1.0v2.0h-1.0zM497.0,309.0h2.0v2.0h-2.0zM491.0,307.0h3.0v2.0h-3.0zM502.0,321.0h2.0v2.0h-2.0zM505.0,321.0h2.0v1.0h-2.0zM504.0,316.0h1.0v1.0h-1.0zM463.0,376.0h3.0v3.0h-3.0zM461.0,379.0h1.0v2.0h-1.0zM465.0,379.0h3.0v1.0h-3.0zM467.0,375.0h2.0v3.0h-2.0zM451.0,386.0h2.0v1.0h-2.0zM451.0,386.0h1.0v2.0h-1.0zM444.0,393.0h3.0v2.0h-3.0zM444.0,391.0h1.0v3.0h-1.0zM293.0,166.0h3.0v3.0h-3.0zM298.0,168.0h2.0v1.0h-2.0zM290.0,167.0h3.0v1.0h-3.0zM298.0,169.0h3.0v3.0h-3.0zM294.0,165.0h1.0v1.0h-1.0zM299.0,169.0h3.0v3.0h-3.0zM287.0,164.0h1.0v1.0h-1.0zM284.0,164.0h1.0v2.0h-1.0zM288.0,166.0h2.0v1.0h-2.0zM288.0,164.0h1.0v2.0h-1.0zM282.0,167.0h3.0v2.0h-3.0zM276.0,169.0h1.0v1.0h-1.0zM275.0,166.0h1.0v2.0h-1.0zM271.0,169.0h2.0v2.0h-2.0zM279.0,166.0h3.0v2.0h-3.0zM264.0,173.0h3.0v2.0h-3.0zM268.0,172.0h3.0v2.0h-3.0zM259.0,174.0h2.0v2.0h-2.0zM265.0,174.0h1.0v3.0h-1.0zM266.0,171.0h3.0v2.0h-3.0zM174.0,407.0h3.0v1.0h-3.0zM172.0,401.0h2.0v2.0h-2.0zM174.0,405.0h1.0v2.0h-1.0zM178.0,405.0h2.0v2.0h-2.0zM171.0,397.0h3.0v2.0h-3.0zM175.0,396.0h2.0v2.0h-2.0zM172.0,389.0h3.0v1.0h-3.0zM171.0,384.0h3.0v3.0h-3.0zM171.0,394.0h1.0v2.0h-1.0zM167.0,373.0h1.0v2.0h-1.0zM167.0,371.0h3.0v1.0h-3.0zM163.0,375.0h2.0v3.0h-2.0zM163.0,371.0h3.0v2.0h-3.0zM159.0,359.0h2.0v2.0h-2.0zM278.0,317.0h2.0v2.0h-2.0zM287.0,314.0h1.0v2.0h-1.0zM284.0,315.0h1.0v2.0h-1.0zM275.0,319.0h2.0v2.0h-2.0zM273.0,319.0h3.0v1.0h-3.0zM267.0,322.0h3.0v2.0h-3.0zM262.0,325.0h3.0v1.0h-3.0zM257.0,331.0h2.0v3.0h-2.0zM256.0,333.0h3.0v2.0h-3.0zM246.0,339.0h3.0v2.0h-3.0zM240.0,346.0h3.0v1.0h-3.0zM403.0,374.0h3.0v1.0h-3.0zM407.0,376.0h3.0v1.0h-3.0zM407.0,374.0h1.0v1.0h-1.0zM400.0,371.0h3.0v2.0h-3.0zM405.0,372.0h2.0v1.0h-2.0zM403.0,370.0h3.0v1.0h-3.0zM402.0,372.0h3.0v1.0h-3.0zM420.0,386.0h1.0v1.0h-1.0zM416.0,385.0h3.0v3.0h-3.0zM414.0,385.0h1.0v3.0h-1.0zM423.0,386.0h2.0v2.0h-2.0zM417.0,385.0h3.0v2.0h-3.0zM420.0,384.0h3.0v2.0h-3.0zM426.0,393.0h2.0v2.0h-2.0zM418.0,405.0h1.0v1.0h-1.0zM418.0,400.0h1.0v3.0h-1.0zM418.0,404.0h2.0v1.0h-2.0zM420.0,400.0h2.0v3.0h-2.0zM420.0,401.0h3.0v3.0h-3.0zM413.0,407.0h2.0v2.0h-2.0zM414.0,408.0h3.0v3.0h-3.0zM411.0,410.0h3.0v2.0h-3.0zM416.0,406.0h2.0v2.0h-2.0zM408.0,416.0h2.0v1.0h-2.0zM410.0,411.0h2.0v1.0h-2.0zM406.0,412.0h2.0v2.0h-2.0zM409.0,411.0h2.0v2.0h-2.0zM408.0,417.0h1.0v2.0h-1.0zM408.0,414.0h3.0v3.0h-3.0zM406.0,416.0h3.0v1.0h-3.0zM407.0,417.0h2.0v1.0h-2.0zM406.0,420.0h3.0v2.0h-3.0zM411.0,430.0h2.0v1.0h-2.0zM406.0,424.0h2.0v2.0h-2.0zM409.0,430.0h3.0v2.0h-3.0zM410.0,347.0h3.0v2.0h-3.0zM403.0,354.0h1.0v2.0h-1.0zM418.0,339.0h2.0v3.0h-2.0zM413.0,342.0h3.0v2.0h-3.0zM418.0,339.0h3.0v3.0h-3.0zM432.0,323.0h1.0v2.0h-1.0zM430.0,322.0h3.0v2.0h-3.0zM426.0,327.0h3.0v2.0h-3.0zM427.0,326.0h3.0v2.0h-3.0zM433.0,319.0h1.0v2.0h-1.0z" fill="#000" shape-rendering="crispEdges"/>
<path d="M155.0,142.5 158.0,143.0 160.0,143.0 162.5,142.5 162.0,146.0 159.5,150.0 159.0,153.5 159.0,156.0 157.5,157.5 161.0,158.5 164.0,158.0 166.0,159.5 169.0,159.5 170.0,164.0 172.0,167.0 174.0,166.5 177.0,166.0 180.5,164.0 184.0,163.0M183.8,162.8 185.0,166.0 186.0,170.5 189.0,170.0 193.0,170.5 193.5,166.5 193.0,164.0 191.5,160.0 190.5,157.5 190.0,155.5 192.0,153.0 195.0,152.5 197.5,153.0M197.5,152.8 199.0,151.0 201.0,149.0 205.0,149.5 208.0,151.5 210.0,153.0 212.5,150.0 214.0,148.0 215.5,150.5 218.0,148.0 220.5,150.5 222.5,152.0 225.0,149.0 228.0,148.5 230.0,148.0 234.0,147.0 234.5,144.0 236.0,142.0 240.5,140.0 244.0,142.0 247.5,143.5 250.0,145.0 253.0,144.5 256.0,145.0 259.0,145.5 261.0,147.5 259.0,151.0 259.5,153.5 259.5,156.0 262.5,160.0 266.0,162.0 270.0,164.0 274.0,165.5M197.5,152.8 200.0,156.0 202.5,158.0 204.0,160.5 206.0,162.5 209.0,165.0 208.5,167.0 208.0,170.0 210.0,172.5 211.0,175.0 215.0,177.0 219.0,178.0 221.0,177.0 224.0,175.0 227.5,175.5 229.5,177.5 231.0,180.0 230.0,182.5 233.0,184.0 235.0,185.5 236.0,189.0 232.5,192.0 230.5,192.0 228.0,191.5 225.0,192.5 224.0,195.0 222.5,199.0 225.5,199.5 227.5,201.5 230.0,202.5 231.5,203.5 234.0,205.5 236.0,206.0 239.0,207.5 239.5,209.5 241.0,212.5 241.0,215.0 243.5,217.5 246.0,219.0 247.0,221.5 250.0,224.0 251.5,225.0 254.5,227.5 255.5,229.0 257.5,231.0 259.0,234.5 260.0,237.5 262.0,240.5 265.0,242.5 267.0,245.5 267.5,247.5 267.5,250.0 266.0,252.5 269.0,254.5 272.5,256.0 271.5,259.5 271.0,262.5 269.0,263.5 267.5,266.0M183.8,162.8 183.0,165.0 181.0,167.5 180.0,170.0 179.0,172.0 177.0,174.0 174.0,177.5 170.5,180.0 170.0,182.5M170.0,182.5 172.5,184.5 175.5,187.0 176.0,190.0 175.0,192.5 177.0,195.0 180.5,195.5 182.5,194.5 186.0,195.0 186.0,197.0 186.0,200.0 187.5,202.5 186.0,205.5 185.0,207.0 185.0,209.5 184.0,212.5 183.0,216.0 183.0,218.0 182.0,220.5 182.0,224.0 185.5,223.0 186.5,221.5 189.5,220.5 192.5,219.0 194.5,217.0 197.0,216.0 200.0,215.0 203.0,217.5 205.0,219.0 207.5,217.5 208.5,215.5 211.5,215.0 213.0,213.0 215.0,211.0 218.0,212.5 219.5,212.5 222.5,212.5 224.0,214.5 226.0,216.0 227.0,218.5 229.5,220.5 230.5,221.5 232.5,224.0 233.5,227.5 234.0,229.0 235.0,232.5 234.5,236.0 234.5,239.0 234.0,241.0 236.0,242.5 238.5,245.0 241.0,246.0 242.5,247.5 243.0,249.5 244.5,253.0 245.0,255.0 244.0,258.5 243.5,261.0 243.0,264.0 244.0,266.5 245.0,270.0 249.0,272.5 250.0,270.0 252.0,268.5 255.0,267.5 257.0,267.0 260.0,266.0 262.0,266.5 264.5,266.0 267.5,266.0M170.0,182.5 166.0,183.0 162.5,184.0 161.0,186.0 157.0,187.5 155.0,189.0M248.8,272.5 246.5,270.5 244.0,270.0 240.5,270.0 237.5,269.5 234.5,268.5 231.0,267.0 228.5,266.5 225.0,267.5 223.0,267.5 220.0,267.0 217.5,267.5 214.5,268.5 211.0,269.5 207.5,272.5 205.5,277.0 204.0,278.5 201.0,279.5 200.5,282.5 201.0,285.5 202.5,287.5 203.0,290.0 204.0,292.5 206.0,295.5 207.0,299.0M267.5,266.2 269.0,269.0 270.5,272.5 271.0,275.0 272.0,277.5 272.0,279.5 272.5,282.5 272.5,285.5 271.5,288.0 272.0,290.0 271.0,292.5 270.0,296.0 267.5,298.0 264.0,300.0 261.0,300.0 259.0,301.5 256.0,302.5 255.5,305.0 253.0,304.5 250.0,305.0 248.0,307.5 249.5,311.0 252.5,315.0 251.0,317.5 249.0,316.5 246.0,316.0 242.0,317.0 239.5,319.0 236.0,322.0 232.0,324.0M155.6,273.8 157.5,277.5 157.5,281.0 157.0,284.0 158.5,286.5 159.5,290.0 159.5,293.0 161.0,295.0 162.5,298.5 162.5,301.0 164.0,305.0 161.0,308.0 161.5,311.0 160.5,313.0M171.2,375.0 173.0,377.0 176.5,377.5 180.0,378.0 181.0,380.0 183.0,382.5 183.0,387.0 186.0,387.5 187.5,385.5 190.0,386.0 192.5,386.0 195.0,384.0 198.0,382.0M298.8,440.0 300.0,443.0 302.5,446.0 304.5,448.0 307.0,450.5 309.0,451.5 311.0,453.0 314.0,453.0 316.0,452.0 319.0,451.5 321.0,450.5 324.5,450.5 327.5,451.0 330.0,451.0 332.5,450.0 334.5,447.5 335.0,445.5 339.0,444.5 340.5,444.5 344.0,444.0 347.5,446.0 350.5,447.5 352.5,448.0 356.0,446.0 359.0,446.0 361.0,445.5 364.5,445.0 366.0,445.0 367.5,442.5 369.0,440.0 369.5,438.0 370.5,435.0 373.0,433.0 374.0,430.5 375.5,427.5 376.0,425.0 375.5,422.5 377.5,420.0 378.5,417.0 379.0,415.0 379.0,413.0 380.5,410.0 380.5,407.5 383.5,406.5 386.0,407.0 388.0,406.0 390.5,406.0 393.5,406.0 395.5,406.5 398.0,406.0 400.5,406.0 402.5,406.5 406.0,407.0 408.0,407.5M361.2,403.0 362.5,405.0 364.5,408.0 366.0,410.0 369.5,407.5 370.0,405.5 370.5,403.0 370.0,400.0M305.0,136.0 308.0,137.5 310.5,137.0 313.0,138.0 316.0,138.0 318.0,138.5 321.0,137.5 324.0,137.0M241.9,318.8 244.0,320.5 246.0,322.5 247.5,325.0 249.0,326.5 251.5,329.5 252.5,331.0 256.0,334.0M252.5,325.0 255.0,326.5 257.5,329.0 259.0,327.5M238.1,310.0 238.0,313.5 239.0,316.0 239.5,319.0" fill="none" stroke="#000" stroke-width="1.15" stroke-linejoin="round" shape-rendering="crispEdges"/>
<path d="M248.8,260.0 249.5,280.0 250.0,297.5" fill="none" stroke="#000" stroke-width="1" stroke-dasharray="3,2" shape-rendering="crispEdges"/>
</g>
<path d="M153,36H577V38H153ZM153,36H155V467H153ZM575,36H577V467H575ZM153,464H577V467H153Z" fill="#000" shape-rendering="crispEdges"/>
<path d="M168.5,38v5M168.5,464v-5M195.5,38v5M195.5,464v-5M222.5,38v5M222.5,464v-5M250.5,38v5M250.5,464v-5M277.5,38v5M277.5,464v-5M304.5,38v5M304.5,464v-5M331.5,38v5M331.5,464v-5M358.5,38v5M358.5,464v-5M385.5,38v5M385.5,464v-5M412.5,38v5M412.5,464v-5M440.5,38v5M440.5,464v-5M467.5,38v5M467.5,464v-5M494.5,38v5M494.5,464v-5M521.5,38v5M521.5,464v-5M548.5,38v5M548.5,464v-5M575.5,38v5M575.5,464v-5M155,438.5h5M576,438.5h-5M155,411.5h5M576,411.5h-5M155,383.5h5M576,383.5h-5M155,356.5h5M576,356.5h-5M155,329.5h5M576,329.5h-5M155,301.5h5M576,301.5h-5M155,273.5h5M576,273.5h-5M155,245.5h5M576,245.5h-5M155,217.5h5M576,217.5h-5M155,188.5h5M576,188.5h-5M155,159.5h5M576,159.5h-5M155,130.5h5M576,130.5h-5M155,100.5h5M576,100.5h-5M155,69.5h5M576,69.5h-5" stroke="#000" stroke-width="1" fill="none" shape-rendering="crispEdges"/>
<text x="365.5" y="19.3" font-size="13" text-anchor="middle">Significant Wave Height with Wave Direction</text>
<text class="it" x="365" y="31.5" font-size="12.1" text-anchor="middle">Valid For Aug-12-2018 06:00 GMT</text>
<text class="it" x="171.8" y="483.3" font-size="10.5" text-anchor="middle">100 E</text>
<text class="it" x="239.6" y="483.3" font-size="10.5" text-anchor="middle">105 E</text>
<text class="it" x="307.5" y="483.3" font-size="10.5" text-anchor="middle">110 E</text>
<text class="it" x="375.4" y="483.3" font-size="10.5" text-anchor="middle">115 E</text>
<text class="it" x="443.2" y="483.3" font-size="10.5" text-anchor="middle">120 E</text>
<text class="it" x="510.6" y="483.3" font-size="10.5" text-anchor="middle">125 E</text>
<text class="it" x="578.5" y="483.3" font-size="10.5" text-anchor="middle">130 E</text>
<text class="it" x="583.7" y="468.8" font-size="10.5">0</text>
<text class="it" x="583.7" y="400.8" font-size="10.5">5 N</text>
<text class="it" x="583.7" y="332.8" font-size="10.5">10 N</text>
<text class="it" x="583.7" y="262.8" font-size="10.5">15 N</text>
<text class="it" x="583.7" y="191.8" font-size="10.5">20 N</text>
<text class="it" x="583.7" y="118.8" font-size="10.5">25 N</text>
<text class="it" x="583.7" y="41.7" font-size="10.5">30 N</text>
<text x="155.3" y="497.3" font-size="11.3">oceanweather inc.</text>
<text class="it" x="459.7" y="494" font-size="8.8" textLength="115.5" lengthAdjust="spacingAndGlyphs">Plotted at Aug 12, 2018 01:34 GMT</text>
<text x="364.8" y="508.8" font-size="9.5" text-anchor="middle">Significant Wave Height (Meters)</text>
<text x="364.8" y="556" font-size="9.5" text-anchor="middle">Significant Wave Height (Feet)</text>
<text x="246.6" y="520" font-size="9.5" text-anchor="middle">0</text>
<text x="266.7" y="520" font-size="9.5" text-anchor="middle">1</text>
<text x="286.7" y="520" font-size="9.5" text-anchor="middle">2</text>
<text x="306.8" y="520" font-size="9.5" text-anchor="middle">3</text>
<text x="326.9" y="520" font-size="9.5" text-anchor="middle">4</text>
<text x="346.9" y="520" font-size="9.5" text-anchor="middle">5</text>
<text x="367.0" y="520" font-size="9.5" text-anchor="middle">6</text>
<text x="387.1" y="520" font-size="9.5" text-anchor="middle">7</text>
<text x="407.2" y="520" font-size="9.5" text-anchor="middle">8</text>
<text x="427.2" y="520" font-size="9.5" text-anchor="middle">9</text>
<text x="447.3" y="520" font-size="9.5" text-anchor="middle">10</text>
<text x="467.4" y="520" font-size="9.5" text-anchor="middle">11</text>
<text x="487.4" y="520" font-size="9.5" text-anchor="middle">12</text>
<text x="246.6" y="545.3" font-size="9.5" text-anchor="middle">0</text>
<text x="276.7" y="545.3" font-size="9.5" text-anchor="middle">5</text>
<text x="306.8" y="545.3" font-size="9.5" text-anchor="middle">10</text>
<text x="336.9" y="545.3" font-size="9.5" text-anchor="middle">15</text>
<text x="367.0" y="545.3" font-size="9.5" text-anchor="middle">20</text>
<text x="397.1" y="545.3" font-size="9.5" text-anchor="middle">25</text>
<text x="427.2" y="545.3" font-size="9.5" text-anchor="middle">30</text>
<text x="457.3" y="545.3" font-size="9.5" text-anchor="middle">35</text>
<text x="487.4" y="545.3" font-size="9.5" text-anchor="middle">40</text>
<rect x="245" y="524" width="241" height="12.5" fill="url(#cb)"/>
<rect x="245" y="524" width="2" height="12.5" fill="#000"/>
</svg></body></html>
